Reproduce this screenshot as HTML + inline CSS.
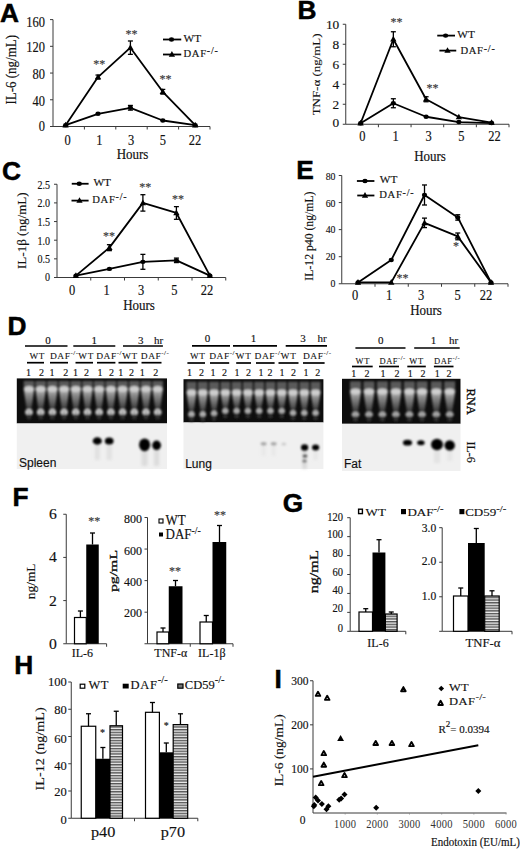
<!DOCTYPE html><html><head><meta charset="utf-8"><style>html,body{margin:0;padding:0;background:#fff;}svg{display:block;}</style></head><body>
<svg width="520" height="849" viewBox="0 0 520 849">
<defs><filter id="bl1" x="-50%" y="-50%" width="200%" height="200%"><feGaussianBlur stdDeviation="1.2"/></filter><filter id="bl2" x="-50%" y="-50%" width="200%" height="200%"><feGaussianBlur stdDeviation="2"/></filter><filter id="bl05" x="-50%" y="-50%" width="200%" height="200%"><feGaussianBlur stdDeviation="0.6"/></filter><filter id="bl07" x="-50%" y="-50%" width="200%" height="200%"><feGaussianBlur stdDeviation="0.8"/></filter><filter id="bl08" x="-5%" y="-5%" width="110%" height="110%"><feGaussianBlur stdDeviation="0.9"/></filter><filter id="bl15" x="-50%" y="-50%" width="200%" height="200%"><feGaussianBlur stdDeviation="1.5"/></filter><pattern id="hs" width="4" height="2.7" patternUnits="userSpaceOnUse"><rect width="4" height="2.7" fill="#eee"/><rect width="4" height="1.4" fill="#555"/></pattern><linearGradient id="smear" x1="0" y1="0" x2="0" y2="1"><stop offset="0" stop-color="#bdbdbd"/><stop offset="0.3" stop-color="#8a8a8a"/><stop offset="1" stop-color="#333"/></linearGradient></defs>
<rect width="520" height="849" fill="#fff"/>
<text transform="translate(0 21.5)" font-size="26.3" text-anchor="start" font-family='"Liberation Sans", sans-serif' font-weight="bold" fill="#000" stroke="#000" stroke-width="0.5">A</text>
<line x1="53" y1="19.6" x2="53" y2="126.5" stroke="#3a3a3a" stroke-width="1"/>
<line x1="50" y1="126.5" x2="53" y2="126.5" stroke="#3a3a3a" stroke-width="1"/>
<text transform="translate(45 131.29) scale(1 1.1)" font-size="12.5" text-anchor="end" font-family='"Liberation Serif", serif' font-weight="normal" fill="#111" stroke="#111" stroke-width="0.15">0</text>
<line x1="50" y1="99.78" x2="53" y2="99.78" stroke="#3a3a3a" stroke-width="1"/>
<text transform="translate(45 105.79) scale(1 1.1)" font-size="12.5" text-anchor="end" font-family='"Liberation Serif", serif' font-weight="normal" fill="#111" stroke="#111" stroke-width="0.15">40</text>
<line x1="50" y1="73.05" x2="53" y2="73.05" stroke="#3a3a3a" stroke-width="1"/>
<text transform="translate(45 78.99) scale(1 1.1)" font-size="12.5" text-anchor="end" font-family='"Liberation Serif", serif' font-weight="normal" fill="#111" stroke="#111" stroke-width="0.15">80</text>
<line x1="50" y1="46.32" x2="53" y2="46.32" stroke="#3a3a3a" stroke-width="1"/>
<text transform="translate(45 52.19) scale(1 1.1)" font-size="12.5" text-anchor="end" font-family='"Liberation Serif", serif' font-weight="normal" fill="#111" stroke="#111" stroke-width="0.15">120</text>
<line x1="50" y1="19.6" x2="53" y2="19.6" stroke="#3a3a3a" stroke-width="1"/>
<text transform="translate(45 26.89) scale(1 1.1)" font-size="12.5" text-anchor="end" font-family='"Liberation Serif", serif' font-weight="normal" fill="#111" stroke="#111" stroke-width="0.15">160</text>
<line x1="53" y1="126.5" x2="210" y2="126.5" stroke="#3a3a3a" stroke-width="1"/>
<line x1="84.4" y1="126.5" x2="84.4" y2="129.5" stroke="#3a3a3a" stroke-width="1"/>
<line x1="115.8" y1="126.5" x2="115.8" y2="129.5" stroke="#3a3a3a" stroke-width="1"/>
<line x1="147.2" y1="126.5" x2="147.2" y2="129.5" stroke="#3a3a3a" stroke-width="1"/>
<line x1="178.6" y1="126.5" x2="178.6" y2="129.5" stroke="#3a3a3a" stroke-width="1"/>
<line x1="210" y1="126.5" x2="210" y2="129.5" stroke="#3a3a3a" stroke-width="1"/>
<text transform="translate(67.5 145) scale(1 1.1)" font-size="12.5" text-anchor="middle" font-family='"Liberation Serif", serif' font-weight="normal" fill="#111" stroke="#111" stroke-width="0.15">0</text>
<text transform="translate(99.25 145) scale(1 1.1)" font-size="12.5" text-anchor="middle" font-family='"Liberation Serif", serif' font-weight="normal" fill="#111" stroke="#111" stroke-width="0.15">1</text>
<text transform="translate(131 145) scale(1 1.1)" font-size="12.5" text-anchor="middle" font-family='"Liberation Serif", serif' font-weight="normal" fill="#111" stroke="#111" stroke-width="0.15">3</text>
<text transform="translate(162.75 145) scale(1 1.1)" font-size="12.5" text-anchor="middle" font-family='"Liberation Serif", serif' font-weight="normal" fill="#111" stroke="#111" stroke-width="0.15">5</text>
<text transform="translate(195 145) scale(1 1.1)" font-size="12.5" text-anchor="middle" font-family='"Liberation Serif", serif' font-weight="normal" fill="#111" stroke="#111" stroke-width="0.15">22</text>
<text transform="translate(132.5 159.3) scale(1 1.1)" font-size="13" text-anchor="middle" font-family='"Liberation Serif", serif' font-weight="normal" fill="#111" stroke="#111" stroke-width="0.15">Hours</text>
<text transform="translate(15.5 69.8) rotate(-90) scale(1 1.12)" font-size="13" text-anchor="middle" font-family='"Liberation Serif", serif' font-weight="normal" fill="#111" stroke="#111" stroke-width="0.15">IL-6 (ng/mL)</text>
<polyline points="65.6,125.16 98,113.81 130.4,107.79 162.8,120.49 195.2,125.16" fill="none" stroke="#000" stroke-width="1.8" stroke-linejoin="round"/>
<polyline points="65.6,125.16 98,77.06 130.4,47.66 162.8,91.76 195.2,125.16" fill="none" stroke="#000" stroke-width="1.8" stroke-linejoin="round"/>
<line x1="130.4" y1="105.45" x2="130.4" y2="110.13" stroke="#000" stroke-width="1.3"/>
<line x1="127.9" y1="105.45" x2="132.9" y2="105.45" stroke="#000" stroke-width="1.3"/>
<line x1="127.9" y1="110.13" x2="132.9" y2="110.13" stroke="#000" stroke-width="1.3"/>
<line x1="130.4" y1="40.98" x2="130.4" y2="54.34" stroke="#000" stroke-width="1.3"/>
<line x1="127.9" y1="40.98" x2="132.9" y2="40.98" stroke="#000" stroke-width="1.3"/>
<line x1="127.9" y1="54.34" x2="132.9" y2="54.34" stroke="#000" stroke-width="1.3"/>
<line x1="98" y1="75.05" x2="98" y2="79.06" stroke="#000" stroke-width="1.3"/>
<line x1="95.5" y1="75.05" x2="100.5" y2="75.05" stroke="#000" stroke-width="1.3"/>
<line x1="95.5" y1="79.06" x2="100.5" y2="79.06" stroke="#000" stroke-width="1.3"/>
<line x1="162.8" y1="89.42" x2="162.8" y2="94.1" stroke="#000" stroke-width="1.3"/>
<line x1="160.3" y1="89.42" x2="165.3" y2="89.42" stroke="#000" stroke-width="1.3"/>
<line x1="160.3" y1="94.1" x2="165.3" y2="94.1" stroke="#000" stroke-width="1.3"/>
<ellipse cx="65.6" cy="125.16" rx="2.64" ry="2.2" fill="#000"/>
<ellipse cx="98" cy="113.81" rx="2.64" ry="2.2" fill="#000"/>
<ellipse cx="130.4" cy="107.79" rx="2.64" ry="2.2" fill="#000"/>
<ellipse cx="162.8" cy="120.49" rx="2.64" ry="2.2" fill="#000"/>
<ellipse cx="195.2" cy="125.16" rx="2.64" ry="2.2" fill="#000"/>
<path d="M65.6 121.76L68.75 127.43L62.45 127.43Z" fill="#000"/>
<path d="M98 73.66L101.15 79.33L94.85 79.33Z" fill="#000"/>
<path d="M130.4 44.26L133.55 49.93L127.25 49.93Z" fill="#000"/>
<path d="M162.8 88.36L165.95 94.03L159.65 94.03Z" fill="#000"/>
<path d="M195.2 121.76L198.35 127.43L192.05 127.43Z" fill="#000"/>
<text transform="translate(99.2 68) scale(1 1.1)" font-size="12" text-anchor="middle" font-family='"Liberation Serif", serif' font-weight="normal" fill="#3a3a3a" stroke="#3a3a3a" stroke-width="0.15">**</text>
<text transform="translate(131.5 38) scale(1 1.1)" font-size="12" text-anchor="middle" font-family='"Liberation Serif", serif' font-weight="normal" fill="#3a3a3a" stroke="#3a3a3a" stroke-width="0.15">**</text>
<text transform="translate(165.4 83) scale(1 1.1)" font-size="12" text-anchor="middle" font-family='"Liberation Serif", serif' font-weight="normal" fill="#3a3a3a" stroke="#3a3a3a" stroke-width="0.15">**</text>
<line x1="163" y1="39.5" x2="181.25" y2="39.5" stroke="#000" stroke-width="1.8"/>
<ellipse cx="171.5" cy="39.5" rx="2.64" ry="2.2" fill="#000"/>
<text transform="translate(183.5 41.5) scale(1 0.85)" font-size="11.3" text-anchor="start" font-family='"Liberation Serif", serif' font-weight="normal" fill="#111" stroke="#111" stroke-width="0.15">WT</text>
<line x1="163" y1="54.5" x2="181.25" y2="54.5" stroke="#000" stroke-width="1.8"/>
<path d="M171.9 51.1L175.05 56.77L168.75 56.77Z" fill="#000"/>
<text transform="translate(183.5 56.5)" font-size="10.6" text-anchor="start" font-family='"Liberation Serif", serif' font-weight="normal" fill="#111" stroke="#111" stroke-width="0.15" letter-spacing="0.7">DAF<tspan font-size="10" dy="-2.6" letter-spacing="0.8">-/-</tspan></text>
<text transform="translate(297.5 18.5)" font-size="26.3" text-anchor="start" font-family='"Liberation Sans", sans-serif' font-weight="bold" fill="#000" stroke="#000" stroke-width="0.5">B</text>
<line x1="345.75" y1="24.25" x2="345.75" y2="124.25" stroke="#3a3a3a" stroke-width="1"/>
<line x1="342.75" y1="124.25" x2="345.75" y2="124.25" stroke="#3a3a3a" stroke-width="1"/>
<text transform="translate(339.25 127.38) scale(1.07 0.94)" font-size="12.5" text-anchor="end" font-family='"Liberation Serif", serif' font-weight="normal" fill="#111" stroke="#111" stroke-width="0.15">0</text>
<line x1="342.75" y1="104.25" x2="345.75" y2="104.25" stroke="#3a3a3a" stroke-width="1"/>
<text transform="translate(339.25 108.58) scale(1.07 0.94)" font-size="12.5" text-anchor="end" font-family='"Liberation Serif", serif' font-weight="normal" fill="#111" stroke="#111" stroke-width="0.15">2</text>
<line x1="342.75" y1="84.25" x2="345.75" y2="84.25" stroke="#3a3a3a" stroke-width="1"/>
<text transform="translate(339.25 89.08) scale(1.07 0.94)" font-size="12.5" text-anchor="end" font-family='"Liberation Serif", serif' font-weight="normal" fill="#111" stroke="#111" stroke-width="0.15">4</text>
<line x1="342.75" y1="64.25" x2="345.75" y2="64.25" stroke="#3a3a3a" stroke-width="1"/>
<text transform="translate(339.25 68.98) scale(1.07 0.94)" font-size="12.5" text-anchor="end" font-family='"Liberation Serif", serif' font-weight="normal" fill="#111" stroke="#111" stroke-width="0.15">6</text>
<line x1="342.75" y1="44.25" x2="345.75" y2="44.25" stroke="#3a3a3a" stroke-width="1"/>
<text transform="translate(339.25 48.88) scale(1.07 0.94)" font-size="12.5" text-anchor="end" font-family='"Liberation Serif", serif' font-weight="normal" fill="#111" stroke="#111" stroke-width="0.15">8</text>
<line x1="342.75" y1="24.25" x2="345.75" y2="24.25" stroke="#3a3a3a" stroke-width="1"/>
<text transform="translate(339.25 28.78) scale(1.07 0.94)" font-size="12.5" text-anchor="end" font-family='"Liberation Serif", serif' font-weight="normal" fill="#111" stroke="#111" stroke-width="0.15">10</text>
<line x1="345.75" y1="124.25" x2="509" y2="124.25" stroke="#3a3a3a" stroke-width="1"/>
<line x1="378.4" y1="124.25" x2="378.4" y2="127.25" stroke="#3a3a3a" stroke-width="1"/>
<line x1="411.05" y1="124.25" x2="411.05" y2="127.25" stroke="#3a3a3a" stroke-width="1"/>
<line x1="443.7" y1="124.25" x2="443.7" y2="127.25" stroke="#3a3a3a" stroke-width="1"/>
<line x1="476.35" y1="124.25" x2="476.35" y2="127.25" stroke="#3a3a3a" stroke-width="1"/>
<line x1="509" y1="124.25" x2="509" y2="127.25" stroke="#3a3a3a" stroke-width="1"/>
<text transform="translate(362.3 141) scale(1 1.1)" font-size="12.5" text-anchor="middle" font-family='"Liberation Serif", serif' font-weight="normal" fill="#111" stroke="#111" stroke-width="0.15">0</text>
<text transform="translate(395.5 141) scale(1 1.1)" font-size="12.5" text-anchor="middle" font-family='"Liberation Serif", serif' font-weight="normal" fill="#111" stroke="#111" stroke-width="0.15">1</text>
<text transform="translate(428.5 141) scale(1 1.1)" font-size="12.5" text-anchor="middle" font-family='"Liberation Serif", serif' font-weight="normal" fill="#111" stroke="#111" stroke-width="0.15">3</text>
<text transform="translate(461.4 141) scale(1 1.1)" font-size="12.5" text-anchor="middle" font-family='"Liberation Serif", serif' font-weight="normal" fill="#111" stroke="#111" stroke-width="0.15">5</text>
<text transform="translate(494.6 141) scale(1 1.1)" font-size="12.5" text-anchor="middle" font-family='"Liberation Serif", serif' font-weight="normal" fill="#111" stroke="#111" stroke-width="0.15">22</text>
<text transform="translate(430 160.5) scale(1 1.1)" font-size="13" text-anchor="middle" font-family='"Liberation Serif", serif' font-weight="normal" fill="#111" stroke="#111" stroke-width="0.15">Hours</text>
<text transform="translate(320 74.45) rotate(-90) scale(1 0.82)" font-size="12.93" text-anchor="middle" font-family='"Liberation Serif", serif' font-weight="normal" fill="#111" stroke="#111" stroke-width="0.15">TNF-&#945; (ng/mL)</text>
<polyline points="360.6,123.25 393.35,103.25 426.1,116.75 458.85,122.05 491.6,123.05" fill="none" stroke="#000" stroke-width="1.8" stroke-linejoin="round"/>
<polyline points="360.6,123.25 393.35,39.25 426.1,99.25 458.85,117.05 491.6,122.55" fill="none" stroke="#000" stroke-width="1.8" stroke-linejoin="round"/>
<line x1="393.35" y1="98.75" x2="393.35" y2="107.75" stroke="#000" stroke-width="1.3"/>
<line x1="390.85" y1="98.75" x2="395.85" y2="98.75" stroke="#000" stroke-width="1.3"/>
<line x1="390.85" y1="107.75" x2="395.85" y2="107.75" stroke="#000" stroke-width="1.3"/>
<line x1="393.35" y1="31.75" x2="393.35" y2="46.75" stroke="#000" stroke-width="1.3"/>
<line x1="390.85" y1="31.75" x2="395.85" y2="31.75" stroke="#000" stroke-width="1.3"/>
<line x1="390.85" y1="46.75" x2="395.85" y2="46.75" stroke="#000" stroke-width="1.3"/>
<line x1="426.1" y1="96.75" x2="426.1" y2="101.75" stroke="#000" stroke-width="1.3"/>
<line x1="423.6" y1="96.75" x2="428.6" y2="96.75" stroke="#000" stroke-width="1.3"/>
<line x1="423.6" y1="101.75" x2="428.6" y2="101.75" stroke="#000" stroke-width="1.3"/>
<ellipse cx="360.6" cy="123.25" rx="2.64" ry="2.2" fill="#000"/>
<ellipse cx="393.35" cy="103.25" rx="2.64" ry="2.2" fill="#000"/>
<ellipse cx="426.1" cy="116.75" rx="2.64" ry="2.2" fill="#000"/>
<ellipse cx="458.85" cy="122.05" rx="2.64" ry="2.2" fill="#000"/>
<ellipse cx="491.6" cy="123.05" rx="2.64" ry="2.2" fill="#000"/>
<path d="M360.6 119.85L363.75 125.52L357.45 125.52Z" fill="#000"/>
<path d="M393.35 35.85L396.5 41.52L390.2 41.52Z" fill="#000"/>
<path d="M426.1 95.85L429.25 101.52L422.95 101.52Z" fill="#000"/>
<path d="M458.85 113.65L462 119.32L455.7 119.32Z" fill="#000"/>
<path d="M491.6 119.15L494.75 124.82L488.45 124.82Z" fill="#000"/>
<text transform="translate(396.5 26) scale(1 1.1)" font-size="12" text-anchor="middle" font-family='"Liberation Serif", serif' font-weight="normal" fill="#3a3a3a" stroke="#3a3a3a" stroke-width="0.15">**</text>
<text transform="translate(432.5 91.5) scale(1 1.1)" font-size="12" text-anchor="middle" font-family='"Liberation Serif", serif' font-weight="normal" fill="#3a3a3a" stroke="#3a3a3a" stroke-width="0.15">**</text>
<line x1="437.25" y1="35.6" x2="455" y2="35.6" stroke="#000" stroke-width="1.8"/>
<ellipse cx="445.6" cy="35.6" rx="2.64" ry="2.2" fill="#000"/>
<text transform="translate(457.3 37.5) scale(1 0.85)" font-size="11.3" text-anchor="start" font-family='"Liberation Serif", serif' font-weight="normal" fill="#111" stroke="#111" stroke-width="0.15">WT</text>
<line x1="439.4" y1="50.6" x2="456.25" y2="50.6" stroke="#000" stroke-width="1.8"/>
<path d="M447.5 47.2L450.65 52.87L444.35 52.87Z" fill="#000"/>
<text transform="translate(460.4 54.4)" font-size="10.6" text-anchor="start" font-family='"Liberation Serif", serif' font-weight="normal" fill="#111" stroke="#111" stroke-width="0.15" letter-spacing="0.7">DAF<tspan font-size="10" dy="-2.6" letter-spacing="0.8">-/-</tspan></text>
<text transform="translate(2 180.2)" font-size="26.3" text-anchor="start" font-family='"Liberation Sans", sans-serif' font-weight="bold" fill="#000" stroke="#000" stroke-width="0.5">C</text>
<line x1="57" y1="184.25" x2="57" y2="277.5" stroke="#3a3a3a" stroke-width="1"/>
<line x1="54" y1="277.5" x2="57" y2="277.5" stroke="#3a3a3a" stroke-width="1"/>
<text transform="translate(50.1 280.92) scale(0.84 0.99)" font-size="12" text-anchor="end" font-family='"Liberation Serif", serif' font-weight="normal" fill="#111" stroke="#111" stroke-width="0.15">0</text>
<line x1="54" y1="258.85" x2="57" y2="258.85" stroke="#3a3a3a" stroke-width="1"/>
<text transform="translate(50.1 263.42) scale(0.84 0.99)" font-size="12" text-anchor="end" font-family='"Liberation Serif", serif' font-weight="normal" fill="#111" stroke="#111" stroke-width="0.15">0.5</text>
<line x1="54" y1="240.2" x2="57" y2="240.2" stroke="#3a3a3a" stroke-width="1"/>
<text transform="translate(50.1 244.62) scale(0.84 0.99)" font-size="12" text-anchor="end" font-family='"Liberation Serif", serif' font-weight="normal" fill="#111" stroke="#111" stroke-width="0.15">1.0</text>
<line x1="54" y1="221.55" x2="57" y2="221.55" stroke="#3a3a3a" stroke-width="1"/>
<text transform="translate(50.1 225.92) scale(0.84 0.99)" font-size="12" text-anchor="end" font-family='"Liberation Serif", serif' font-weight="normal" fill="#111" stroke="#111" stroke-width="0.15">1.5</text>
<line x1="54" y1="202.9" x2="57" y2="202.9" stroke="#3a3a3a" stroke-width="1"/>
<text transform="translate(50.1 206.82) scale(0.84 0.99)" font-size="12" text-anchor="end" font-family='"Liberation Serif", serif' font-weight="normal" fill="#111" stroke="#111" stroke-width="0.15">2.0</text>
<line x1="54" y1="184.25" x2="57" y2="184.25" stroke="#3a3a3a" stroke-width="1"/>
<text transform="translate(50.1 189.02) scale(0.84 0.99)" font-size="12" text-anchor="end" font-family='"Liberation Serif", serif' font-weight="normal" fill="#111" stroke="#111" stroke-width="0.15">2.5</text>
<line x1="57" y1="277.5" x2="225.75" y2="277.5" stroke="#3a3a3a" stroke-width="1"/>
<line x1="90.75" y1="277.5" x2="90.75" y2="280.5" stroke="#3a3a3a" stroke-width="1"/>
<line x1="124.5" y1="277.5" x2="124.5" y2="280.5" stroke="#3a3a3a" stroke-width="1"/>
<line x1="158.25" y1="277.5" x2="158.25" y2="280.5" stroke="#3a3a3a" stroke-width="1"/>
<line x1="192" y1="277.5" x2="192" y2="280.5" stroke="#3a3a3a" stroke-width="1"/>
<line x1="225.75" y1="277.5" x2="225.75" y2="280.5" stroke="#3a3a3a" stroke-width="1"/>
<text transform="translate(72.1 294.5) scale(1 1.1)" font-size="12.5" text-anchor="middle" font-family='"Liberation Serif", serif' font-weight="normal" fill="#111" stroke="#111" stroke-width="0.15">0</text>
<text transform="translate(106.7 294.5) scale(1 1.1)" font-size="12.5" text-anchor="middle" font-family='"Liberation Serif", serif' font-weight="normal" fill="#111" stroke="#111" stroke-width="0.15">1</text>
<text transform="translate(141 294.5) scale(1 1.1)" font-size="12.5" text-anchor="middle" font-family='"Liberation Serif", serif' font-weight="normal" fill="#111" stroke="#111" stroke-width="0.15">3</text>
<text transform="translate(174.4 294.5) scale(1 1.1)" font-size="12.5" text-anchor="middle" font-family='"Liberation Serif", serif' font-weight="normal" fill="#111" stroke="#111" stroke-width="0.15">5</text>
<text transform="translate(207 294.5) scale(1 1.1)" font-size="12.5" text-anchor="middle" font-family='"Liberation Serif", serif' font-weight="normal" fill="#111" stroke="#111" stroke-width="0.15">22</text>
<text transform="translate(139 309.5) scale(1 1.1)" font-size="13" text-anchor="middle" font-family='"Liberation Serif", serif' font-weight="normal" fill="#111" stroke="#111" stroke-width="0.15">Hours</text>
<text transform="translate(25.7 230.7) rotate(-90) scale(1 0.91)" font-size="13.07" text-anchor="middle" font-family='"Liberation Serif", serif' font-weight="normal" fill="#111" stroke="#111" stroke-width="0.15">IL-1&#946; (ng/mL)</text>
<polyline points="75.9,275.63 109.4,268.92 142.9,261.83 176.4,260.34 209.9,275.63" fill="none" stroke="#000" stroke-width="1.8" stroke-linejoin="round"/>
<polyline points="75.9,275.63 109.4,247.66 142.9,202.9 176.4,212.97 209.9,275.63" fill="none" stroke="#000" stroke-width="1.8" stroke-linejoin="round"/>
<line x1="142.9" y1="254.37" x2="142.9" y2="269.29" stroke="#000" stroke-width="1.3"/>
<line x1="140.4" y1="254.37" x2="145.4" y2="254.37" stroke="#000" stroke-width="1.3"/>
<line x1="140.4" y1="269.29" x2="145.4" y2="269.29" stroke="#000" stroke-width="1.3"/>
<line x1="176.4" y1="258.1" x2="176.4" y2="262.58" stroke="#000" stroke-width="1.3"/>
<line x1="173.9" y1="258.1" x2="178.9" y2="258.1" stroke="#000" stroke-width="1.3"/>
<line x1="173.9" y1="262.58" x2="178.9" y2="262.58" stroke="#000" stroke-width="1.3"/>
<line x1="109.4" y1="244.68" x2="109.4" y2="250.64" stroke="#000" stroke-width="1.3"/>
<line x1="106.9" y1="244.68" x2="111.9" y2="244.68" stroke="#000" stroke-width="1.3"/>
<line x1="106.9" y1="250.64" x2="111.9" y2="250.64" stroke="#000" stroke-width="1.3"/>
<line x1="142.9" y1="194.69" x2="142.9" y2="211.11" stroke="#000" stroke-width="1.3"/>
<line x1="140.4" y1="194.69" x2="145.4" y2="194.69" stroke="#000" stroke-width="1.3"/>
<line x1="140.4" y1="211.11" x2="145.4" y2="211.11" stroke="#000" stroke-width="1.3"/>
<line x1="176.4" y1="206.63" x2="176.4" y2="219.31" stroke="#000" stroke-width="1.3"/>
<line x1="173.9" y1="206.63" x2="178.9" y2="206.63" stroke="#000" stroke-width="1.3"/>
<line x1="173.9" y1="219.31" x2="178.9" y2="219.31" stroke="#000" stroke-width="1.3"/>
<ellipse cx="75.9" cy="275.63" rx="2.64" ry="2.2" fill="#000"/>
<ellipse cx="109.4" cy="268.92" rx="2.64" ry="2.2" fill="#000"/>
<ellipse cx="142.9" cy="261.83" rx="2.64" ry="2.2" fill="#000"/>
<ellipse cx="176.4" cy="260.34" rx="2.64" ry="2.2" fill="#000"/>
<ellipse cx="209.9" cy="275.63" rx="2.64" ry="2.2" fill="#000"/>
<path d="M75.9 272.23L79.05 277.9L72.75 277.9Z" fill="#000"/>
<path d="M109.4 244.26L112.55 249.93L106.25 249.93Z" fill="#000"/>
<path d="M142.9 199.5L146.05 205.17L139.75 205.17Z" fill="#000"/>
<path d="M176.4 209.57L179.55 215.24L173.25 215.24Z" fill="#000"/>
<path d="M209.9 272.23L213.05 277.9L206.75 277.9Z" fill="#000"/>
<text transform="translate(108.9 240) scale(1 1.1)" font-size="12" text-anchor="middle" font-family='"Liberation Serif", serif' font-weight="normal" fill="#3a3a3a" stroke="#3a3a3a" stroke-width="0.15">**</text>
<text transform="translate(145.2 190.5) scale(1 1.1)" font-size="12" text-anchor="middle" font-family='"Liberation Serif", serif' font-weight="normal" fill="#3a3a3a" stroke="#3a3a3a" stroke-width="0.15">**</text>
<text transform="translate(177.9 203) scale(1 1.1)" font-size="12" text-anchor="middle" font-family='"Liberation Serif", serif' font-weight="normal" fill="#3a3a3a" stroke="#3a3a3a" stroke-width="0.15">**</text>
<line x1="71.75" y1="183.75" x2="88.6" y2="183.75" stroke="#000" stroke-width="1.8"/>
<ellipse cx="79.25" cy="183.75" rx="2.64" ry="2.2" fill="#000"/>
<text transform="translate(93.4 186) scale(1 0.85)" font-size="11.3" text-anchor="start" font-family='"Liberation Serif", serif' font-weight="normal" fill="#111" stroke="#111" stroke-width="0.15">WT</text>
<line x1="71.5" y1="200.6" x2="88.6" y2="200.6" stroke="#000" stroke-width="1.8"/>
<path d="M79.5 197.2L82.65 202.87L76.35 202.87Z" fill="#000"/>
<text transform="translate(92.2 202.75)" font-size="10.6" text-anchor="start" font-family='"Liberation Serif", serif' font-weight="normal" fill="#111" stroke="#111" stroke-width="0.15" letter-spacing="0.7">DAF<tspan font-size="10" dy="-2.6" letter-spacing="0.8">-/-</tspan></text>
<text transform="translate(296.2 179)" font-size="26.3" text-anchor="start" font-family='"Liberation Sans", sans-serif' font-weight="bold" fill="#000" stroke="#000" stroke-width="0.5">E</text>
<line x1="341.75" y1="175.5" x2="341.75" y2="283.75" stroke="#3a3a3a" stroke-width="1"/>
<line x1="338.75" y1="283.75" x2="341.75" y2="283.75" stroke="#3a3a3a" stroke-width="1"/>
<text transform="translate(335.45 287.23) scale(0.82 0.91)" font-size="12" text-anchor="end" font-family='"Liberation Serif", serif' font-weight="normal" fill="#111" stroke="#111" stroke-width="0.15">0</text>
<line x1="338.75" y1="256.69" x2="341.75" y2="256.69" stroke="#3a3a3a" stroke-width="1"/>
<text transform="translate(335.45 260.33) scale(0.82 0.91)" font-size="12" text-anchor="end" font-family='"Liberation Serif", serif' font-weight="normal" fill="#111" stroke="#111" stroke-width="0.15">20</text>
<line x1="338.75" y1="229.62" x2="341.75" y2="229.62" stroke="#3a3a3a" stroke-width="1"/>
<text transform="translate(335.45 233.43) scale(0.82 0.91)" font-size="12" text-anchor="end" font-family='"Liberation Serif", serif' font-weight="normal" fill="#111" stroke="#111" stroke-width="0.15">40</text>
<line x1="338.75" y1="202.56" x2="341.75" y2="202.56" stroke="#3a3a3a" stroke-width="1"/>
<text transform="translate(335.45 207.33) scale(0.82 0.91)" font-size="12" text-anchor="end" font-family='"Liberation Serif", serif' font-weight="normal" fill="#111" stroke="#111" stroke-width="0.15">60</text>
<line x1="338.75" y1="175.5" x2="341.75" y2="175.5" stroke="#3a3a3a" stroke-width="1"/>
<text transform="translate(335.45 180.33) scale(0.82 0.91)" font-size="12" text-anchor="end" font-family='"Liberation Serif", serif' font-weight="normal" fill="#111" stroke="#111" stroke-width="0.15">80</text>
<line x1="341.75" y1="283.75" x2="508" y2="283.75" stroke="#3a3a3a" stroke-width="1"/>
<line x1="375" y1="283.75" x2="375" y2="286.75" stroke="#3a3a3a" stroke-width="1"/>
<line x1="408.25" y1="283.75" x2="408.25" y2="286.75" stroke="#3a3a3a" stroke-width="1"/>
<line x1="441.5" y1="283.75" x2="441.5" y2="286.75" stroke="#3a3a3a" stroke-width="1"/>
<line x1="474.75" y1="283.75" x2="474.75" y2="286.75" stroke="#3a3a3a" stroke-width="1"/>
<line x1="508" y1="283.75" x2="508" y2="286.75" stroke="#3a3a3a" stroke-width="1"/>
<text transform="translate(355 299.5) scale(1 1.1)" font-size="12.5" text-anchor="middle" font-family='"Liberation Serif", serif' font-weight="normal" fill="#111" stroke="#111" stroke-width="0.15">0</text>
<text transform="translate(389 299.5) scale(1 1.1)" font-size="12.5" text-anchor="middle" font-family='"Liberation Serif", serif' font-weight="normal" fill="#111" stroke="#111" stroke-width="0.15">1</text>
<text transform="translate(421 299.5) scale(1 1.1)" font-size="12.5" text-anchor="middle" font-family='"Liberation Serif", serif' font-weight="normal" fill="#111" stroke="#111" stroke-width="0.15">3</text>
<text transform="translate(457.5 299.5) scale(1 1.1)" font-size="12.5" text-anchor="middle" font-family='"Liberation Serif", serif' font-weight="normal" fill="#111" stroke="#111" stroke-width="0.15">5</text>
<text transform="translate(486 299.5) scale(1 1.1)" font-size="12.5" text-anchor="middle" font-family='"Liberation Serif", serif' font-weight="normal" fill="#111" stroke="#111" stroke-width="0.15">22</text>
<text transform="translate(426 314.5) scale(1 1.1)" font-size="13" text-anchor="middle" font-family='"Liberation Serif", serif' font-weight="normal" fill="#111" stroke="#111" stroke-width="0.15">Hours</text>
<text transform="translate(313.3 236.1) rotate(-90) scale(1 1.05)" font-size="11.72" text-anchor="middle" font-family='"Liberation Serif", serif' font-weight="normal" fill="#111" stroke="#111" stroke-width="0.15">IL-12 p40 (ng/mL)</text>
<polyline points="358,282.4 391.25,260.07 424.5,194.99 457.75,217.45 491,282.4" fill="none" stroke="#000" stroke-width="1.8" stroke-linejoin="round"/>
<polyline points="358,282.4 391.25,282.4 424.5,222.86 457.75,236.39 491,282.4" fill="none" stroke="#000" stroke-width="1.8" stroke-linejoin="round"/>
<line x1="424.5" y1="184.97" x2="424.5" y2="205" stroke="#000" stroke-width="1.3"/>
<line x1="422" y1="184.97" x2="427" y2="184.97" stroke="#000" stroke-width="1.3"/>
<line x1="422" y1="205" x2="427" y2="205" stroke="#000" stroke-width="1.3"/>
<line x1="457.75" y1="214.74" x2="457.75" y2="220.15" stroke="#000" stroke-width="1.3"/>
<line x1="455.25" y1="214.74" x2="460.25" y2="214.74" stroke="#000" stroke-width="1.3"/>
<line x1="455.25" y1="220.15" x2="460.25" y2="220.15" stroke="#000" stroke-width="1.3"/>
<line x1="424.5" y1="218.12" x2="424.5" y2="227.6" stroke="#000" stroke-width="1.3"/>
<line x1="422" y1="218.12" x2="427" y2="218.12" stroke="#000" stroke-width="1.3"/>
<line x1="422" y1="227.6" x2="427" y2="227.6" stroke="#000" stroke-width="1.3"/>
<line x1="457.75" y1="233.01" x2="457.75" y2="239.77" stroke="#000" stroke-width="1.3"/>
<line x1="455.25" y1="233.01" x2="460.25" y2="233.01" stroke="#000" stroke-width="1.3"/>
<line x1="455.25" y1="239.77" x2="460.25" y2="239.77" stroke="#000" stroke-width="1.3"/>
<ellipse cx="358" cy="282.4" rx="2.64" ry="2.2" fill="#000"/>
<ellipse cx="391.25" cy="260.07" rx="2.64" ry="2.2" fill="#000"/>
<ellipse cx="424.5" cy="194.99" rx="2.64" ry="2.2" fill="#000"/>
<ellipse cx="457.75" cy="217.45" rx="2.64" ry="2.2" fill="#000"/>
<ellipse cx="491" cy="282.4" rx="2.64" ry="2.2" fill="#000"/>
<path d="M358 278.99L361.15 284.66L354.85 284.66Z" fill="#000"/>
<path d="M391.25 278.99L394.4 284.66L388.1 284.66Z" fill="#000"/>
<path d="M424.5 219.46L427.65 225.13L421.35 225.13Z" fill="#000"/>
<path d="M457.75 232.99L460.9 238.66L454.6 238.66Z" fill="#000"/>
<path d="M491 278.99L494.15 284.66L487.85 284.66Z" fill="#000"/>
<text transform="translate(402.5 282) scale(1 1.1)" font-size="12" text-anchor="middle" font-family='"Liberation Serif", serif' font-weight="normal" fill="#3a3a3a" stroke="#3a3a3a" stroke-width="0.15">**</text>
<text transform="translate(456 250) scale(1 1.1)" font-size="12" text-anchor="middle" font-family='"Liberation Serif", serif' font-weight="normal" fill="#3a3a3a" stroke="#3a3a3a" stroke-width="0.15">*</text>
<line x1="356.9" y1="181" x2="374.4" y2="181" stroke="#000" stroke-width="1.8"/>
<ellipse cx="365" cy="181" rx="2.64" ry="2.2" fill="#000"/>
<text transform="translate(379.8 183.25) scale(1 0.85)" font-size="11.3" text-anchor="start" font-family='"Liberation Serif", serif' font-weight="normal" fill="#111" stroke="#111" stroke-width="0.15">WT</text>
<line x1="357.25" y1="195.5" x2="374.4" y2="195.5" stroke="#000" stroke-width="1.8"/>
<path d="M365 192.1L368.15 197.77L361.85 197.77Z" fill="#000"/>
<text transform="translate(379.2 198.25)" font-size="10.6" text-anchor="start" font-family='"Liberation Serif", serif' font-weight="normal" fill="#111" stroke="#111" stroke-width="0.15" letter-spacing="0.7">DAF<tspan font-size="10" dy="-2.6" letter-spacing="0.8">-/-</tspan></text>
<text transform="translate(7.6 335.4)" font-size="26.3" text-anchor="start" font-family='"Liberation Sans", sans-serif' font-weight="bold" fill="#000" stroke="#000" stroke-width="0.5">D</text>
<rect x="16.8" y="378.4" width="150.2" height="45.1" fill="#0d0d0d"/>
<rect x="16.8" y="423.5" width="150.2" height="45.5" fill="#f0f0f0"/>
<g filter="url(#bl08)">
<rect x="23.75" y="380.9" width="10.5" height="8.1" fill="#5a5a5a"/>
<path d="M23.75 389L34.25 389L31.31 410.3L26.69 410.3Z" fill="url(#smear)"/>
<ellipse cx="29" cy="389" rx="5.25" ry="3" fill="#cdcdcd"/>
<ellipse cx="29" cy="412.3" rx="3.88" ry="3.3" fill="#cacaca"/>
<ellipse cx="29" cy="412" rx="1.57" ry="1.2" fill="#a0a0a0"/>
<rect x="26.9" y="414.3" width="4.2" height="5" fill="#333"/>
<rect x="35.45" y="380.9" width="10.5" height="8.1" fill="#5a5a5a"/>
<path d="M35.45 389L45.95 389L43.01 410.3L38.39 410.3Z" fill="url(#smear)"/>
<ellipse cx="40.7" cy="389" rx="5.25" ry="3" fill="#cdcdcd"/>
<ellipse cx="40.7" cy="412.3" rx="3.88" ry="3.3" fill="#cacaca"/>
<ellipse cx="40.7" cy="412" rx="1.57" ry="1.2" fill="#a0a0a0"/>
<rect x="38.6" y="414.3" width="4.2" height="5" fill="#333"/>
<rect x="47.15" y="380.9" width="10.5" height="8.1" fill="#5a5a5a"/>
<path d="M47.15 389L57.65 389L54.71 410.3L50.09 410.3Z" fill="url(#smear)"/>
<ellipse cx="52.4" cy="389" rx="5.25" ry="3" fill="#cdcdcd"/>
<ellipse cx="52.4" cy="412.3" rx="3.88" ry="3.3" fill="#cacaca"/>
<ellipse cx="52.4" cy="412" rx="1.57" ry="1.2" fill="#a0a0a0"/>
<rect x="50.3" y="414.3" width="4.2" height="5" fill="#333"/>
<rect x="58.85" y="380.9" width="10.5" height="8.1" fill="#5a5a5a"/>
<path d="M58.85 389L69.35 389L66.41 410.3L61.79 410.3Z" fill="url(#smear)"/>
<ellipse cx="64.1" cy="389" rx="5.25" ry="3" fill="#cdcdcd"/>
<ellipse cx="64.1" cy="412.3" rx="3.88" ry="3.3" fill="#cacaca"/>
<ellipse cx="64.1" cy="412" rx="1.57" ry="1.2" fill="#a0a0a0"/>
<rect x="62" y="414.3" width="4.2" height="5" fill="#333"/>
<rect x="70.55" y="380.9" width="10.5" height="8.1" fill="#5a5a5a"/>
<path d="M70.55 389L81.05 389L78.11 410.3L73.49 410.3Z" fill="url(#smear)"/>
<ellipse cx="75.8" cy="389" rx="5.25" ry="3" fill="#cdcdcd"/>
<ellipse cx="75.8" cy="412.3" rx="3.88" ry="3.3" fill="#cacaca"/>
<ellipse cx="75.8" cy="412" rx="1.57" ry="1.2" fill="#a0a0a0"/>
<rect x="73.7" y="414.3" width="4.2" height="5" fill="#333"/>
<rect x="82.25" y="380.9" width="10.5" height="8.1" fill="#5a5a5a"/>
<path d="M82.25 389L92.75 389L89.81 410.3L85.19 410.3Z" fill="url(#smear)"/>
<ellipse cx="87.5" cy="389" rx="5.25" ry="3" fill="#cdcdcd"/>
<ellipse cx="87.5" cy="412.3" rx="3.88" ry="3.3" fill="#cacaca"/>
<ellipse cx="87.5" cy="412" rx="1.57" ry="1.2" fill="#a0a0a0"/>
<rect x="85.4" y="414.3" width="4.2" height="5" fill="#333"/>
<rect x="93.95" y="380.9" width="10.5" height="8.1" fill="#5a5a5a"/>
<path d="M93.95 389L104.45 389L101.51 410.3L96.89 410.3Z" fill="url(#smear)"/>
<ellipse cx="99.2" cy="389" rx="5.25" ry="3" fill="#cdcdcd"/>
<ellipse cx="99.2" cy="412.3" rx="3.88" ry="3.3" fill="#cacaca"/>
<ellipse cx="99.2" cy="412" rx="1.57" ry="1.2" fill="#a0a0a0"/>
<rect x="97.1" y="414.3" width="4.2" height="5" fill="#333"/>
<rect x="105.65" y="380.9" width="10.5" height="8.1" fill="#5a5a5a"/>
<path d="M105.65 389L116.15 389L113.21 410.3L108.59 410.3Z" fill="url(#smear)"/>
<ellipse cx="110.9" cy="389" rx="5.25" ry="3" fill="#cdcdcd"/>
<ellipse cx="110.9" cy="412.3" rx="3.88" ry="3.3" fill="#cacaca"/>
<ellipse cx="110.9" cy="412" rx="1.57" ry="1.2" fill="#a0a0a0"/>
<rect x="108.8" y="414.3" width="4.2" height="5" fill="#333"/>
<rect x="117.35" y="380.9" width="10.5" height="8.1" fill="#5a5a5a"/>
<path d="M117.35 389L127.85 389L124.91 410.3L120.29 410.3Z" fill="url(#smear)"/>
<ellipse cx="122.6" cy="389" rx="5.25" ry="3" fill="#cdcdcd"/>
<ellipse cx="122.6" cy="412.3" rx="3.88" ry="3.3" fill="#cacaca"/>
<ellipse cx="122.6" cy="412" rx="1.57" ry="1.2" fill="#a0a0a0"/>
<rect x="120.5" y="414.3" width="4.2" height="5" fill="#333"/>
<rect x="129.05" y="380.9" width="10.5" height="8.1" fill="#5a5a5a"/>
<path d="M129.05 389L139.55 389L136.61 410.3L131.99 410.3Z" fill="url(#smear)"/>
<ellipse cx="134.3" cy="389" rx="5.25" ry="3" fill="#cdcdcd"/>
<ellipse cx="134.3" cy="412.3" rx="3.88" ry="3.3" fill="#cacaca"/>
<ellipse cx="134.3" cy="412" rx="1.57" ry="1.2" fill="#a0a0a0"/>
<rect x="132.2" y="414.3" width="4.2" height="5" fill="#333"/>
<rect x="140.75" y="380.9" width="10.5" height="8.1" fill="#5a5a5a"/>
<path d="M140.75 389L151.25 389L148.31 410.3L143.69 410.3Z" fill="url(#smear)"/>
<ellipse cx="146" cy="389" rx="5.25" ry="3" fill="#cdcdcd"/>
<ellipse cx="146" cy="412.3" rx="3.88" ry="3.3" fill="#cacaca"/>
<ellipse cx="146" cy="412" rx="1.57" ry="1.2" fill="#a0a0a0"/>
<rect x="143.9" y="414.3" width="4.2" height="5" fill="#333"/>
<rect x="152.45" y="380.9" width="10.5" height="8.1" fill="#5a5a5a"/>
<path d="M152.45 389L162.95 389L160.01 410.3L155.39 410.3Z" fill="url(#smear)"/>
<ellipse cx="157.7" cy="389" rx="5.25" ry="3" fill="#cdcdcd"/>
<ellipse cx="157.7" cy="412.3" rx="3.88" ry="3.3" fill="#cacaca"/>
<ellipse cx="157.7" cy="412" rx="1.57" ry="1.2" fill="#a0a0a0"/>
<rect x="155.6" y="414.3" width="4.2" height="5" fill="#333"/>
</g>
<g filter="url(#bl15)">
<rect x="94.8" y="444" width="5" height="16" fill="#c4c4c4" opacity="0.36"/>
<rect x="106.7" y="444" width="5" height="16" fill="#c4c4c4" opacity="0.36"/>
<rect x="141.6" y="449" width="6" height="17" fill="#c4c4c4" opacity="0.48"/>
<rect x="154.1" y="449" width="5" height="17" fill="#c4c4c4" opacity="0.48"/>
</g>
<g filter="url(#bl07)">
<ellipse cx="97.3" cy="441" rx="4.6" ry="3.7" fill="#000" opacity="1"/>
<ellipse cx="109.2" cy="441" rx="4.4" ry="3.5" fill="#000" opacity="1"/>
<ellipse cx="144.6" cy="444.8" rx="5.6" ry="6.4" fill="#000" opacity="1"/>
<ellipse cx="156.6" cy="445.3" rx="4.4" ry="4.8" fill="#000" opacity="1"/>
</g>
<text transform="translate(19 466.5)" font-size="12" text-anchor="start" font-family='"Liberation Sans", sans-serif' font-weight="normal" fill="#111" stroke="#111" stroke-width="0.15">Spleen</text>
<line x1="25" y1="346" x2="67.5" y2="346" stroke="#000" stroke-width="1.7"/>
<text transform="translate(48 343.7)" font-size="11" text-anchor="middle" font-family='"Liberation Serif", serif' font-weight="normal" fill="#111" stroke="#111" stroke-width="0.15">0</text>
<line x1="73.3" y1="346" x2="115.3" y2="346" stroke="#000" stroke-width="1.7"/>
<text transform="translate(94.3 343.7)" font-size="11" text-anchor="middle" font-family='"Liberation Serif", serif' font-weight="normal" fill="#111" stroke="#111" stroke-width="0.15">1</text>
<line x1="123" y1="346" x2="162.9" y2="346" stroke="#000" stroke-width="1.7"/>
<text transform="translate(140.8 343.7)" font-size="11" text-anchor="middle" font-family='"Liberation Serif", serif' font-weight="normal" fill="#111" stroke="#111" stroke-width="0.15">3</text>
<text transform="translate(158.5 343.7)" font-size="11" text-anchor="middle" font-family='"Liberation Serif", serif' font-weight="normal" fill="#111" stroke="#111" stroke-width="0.15">hr</text>
<line x1="27" y1="362.7" x2="44" y2="362.7" stroke="#000" stroke-width="1.7"/>
<line x1="50" y1="362.7" x2="68" y2="362.7" stroke="#000" stroke-width="1.7"/>
<line x1="75.5" y1="362.7" x2="93" y2="362.7" stroke="#000" stroke-width="1.7"/>
<line x1="97" y1="362.7" x2="115.4" y2="362.7" stroke="#000" stroke-width="1.7"/>
<line x1="118.5" y1="362.7" x2="137.7" y2="362.7" stroke="#000" stroke-width="1.7"/>
<line x1="141.5" y1="362.7" x2="161.5" y2="362.7" stroke="#000" stroke-width="1.7"/>
<text transform="translate(37.3 358.5) scale(1 0.95)" font-size="9.2" text-anchor="middle" font-family='"Liberation Serif", serif' font-weight="normal" fill="#111" stroke="#111" stroke-width="0.1" letter-spacing="0.7">WT</text>
<text transform="translate(50 358.5) scale(1 0.85)" font-size="9.5" text-anchor="start" font-family='"Liberation Serif", serif' font-weight="normal" fill="#111" stroke="#111" stroke-width="0.1" letter-spacing="0.5">DAF<tspan font-size="7" dy="-4.5">-/-</tspan></text>
<text transform="translate(86.2 358.5) scale(1 0.95)" font-size="9.2" text-anchor="middle" font-family='"Liberation Serif", serif' font-weight="normal" fill="#111" stroke="#111" stroke-width="0.1" letter-spacing="0.7">WT</text>
<text transform="translate(96.2 358.5) scale(1 0.85)" font-size="9.5" text-anchor="start" font-family='"Liberation Serif", serif' font-weight="normal" fill="#111" stroke="#111" stroke-width="0.1" letter-spacing="0.5">DAF<tspan font-size="7" dy="-4.5">-/-</tspan></text>
<text transform="translate(130 358.5) scale(1 0.95)" font-size="9.2" text-anchor="middle" font-family='"Liberation Serif", serif' font-weight="normal" fill="#111" stroke="#111" stroke-width="0.1" letter-spacing="0.7">WT</text>
<text transform="translate(140.8 358.5) scale(1 0.85)" font-size="9.5" text-anchor="start" font-family='"Liberation Serif", serif' font-weight="normal" fill="#111" stroke="#111" stroke-width="0.1" letter-spacing="0.5">DAF<tspan font-size="7" dy="-4.5">-/-</tspan></text>
<text transform="translate(28.5 376)" font-size="10" text-anchor="middle" font-family='"Liberation Serif", serif' font-weight="normal" fill="#111" stroke="#111" stroke-width="0.15">1</text>
<text transform="translate(41.5 376)" font-size="10" text-anchor="middle" font-family='"Liberation Serif", serif' font-weight="normal" fill="#111" stroke="#111" stroke-width="0.15">2</text>
<text transform="translate(52 376)" font-size="10" text-anchor="middle" font-family='"Liberation Serif", serif' font-weight="normal" fill="#111" stroke="#111" stroke-width="0.15">1</text>
<text transform="translate(65.7 376)" font-size="10" text-anchor="middle" font-family='"Liberation Serif", serif' font-weight="normal" fill="#111" stroke="#111" stroke-width="0.15">2</text>
<text transform="translate(75.6 376)" font-size="10" text-anchor="middle" font-family='"Liberation Serif", serif' font-weight="normal" fill="#111" stroke="#111" stroke-width="0.15">1</text>
<text transform="translate(86.5 376)" font-size="10" text-anchor="middle" font-family='"Liberation Serif", serif' font-weight="normal" fill="#111" stroke="#111" stroke-width="0.15">2</text>
<text transform="translate(100 376)" font-size="10" text-anchor="middle" font-family='"Liberation Serif", serif' font-weight="normal" fill="#111" stroke="#111" stroke-width="0.15">1</text>
<text transform="translate(111.5 376)" font-size="10" text-anchor="middle" font-family='"Liberation Serif", serif' font-weight="normal" fill="#111" stroke="#111" stroke-width="0.15">2</text>
<text transform="translate(120.8 376)" font-size="10" text-anchor="middle" font-family='"Liberation Serif", serif' font-weight="normal" fill="#111" stroke="#111" stroke-width="0.15">1</text>
<text transform="translate(131.5 376)" font-size="10" text-anchor="middle" font-family='"Liberation Serif", serif' font-weight="normal" fill="#111" stroke="#111" stroke-width="0.15">2</text>
<text transform="translate(142.3 376)" font-size="10" text-anchor="middle" font-family='"Liberation Serif", serif' font-weight="normal" fill="#111" stroke="#111" stroke-width="0.15">1</text>
<text transform="translate(155.8 376)" font-size="10" text-anchor="middle" font-family='"Liberation Serif", serif' font-weight="normal" fill="#111" stroke="#111" stroke-width="0.15">2</text>
<rect x="183.5" y="379.2" width="139.9" height="43.3" fill="#0d0d0d"/>
<rect x="183.5" y="422.5" width="139.9" height="46.5" fill="#f0f0f0"/>
<g filter="url(#bl08)">
<rect x="186.6" y="381.7" width="9.8" height="10.8" fill="#5a5a5a"/>
<path d="M186.6 392.5L196.4 392.5L193.66 412.4L189.34 412.4Z" fill="url(#smear)"/>
<ellipse cx="191.5" cy="392.5" rx="4.9" ry="3" fill="#cdcdcd"/>
<ellipse cx="191.5" cy="414.4" rx="3.33" ry="2.8" fill="#b8b8b8"/>
<ellipse cx="191.5" cy="414.1" rx="1.47" ry="1.2" fill="#a0a0a0"/>
<rect x="189.54" y="416.4" width="3.92" height="5" fill="#333"/>
<rect x="197.88" y="381.7" width="9.8" height="10.8" fill="#5a5a5a"/>
<path d="M197.88 392.5L207.68 392.5L204.94 412.4L200.62 412.4Z" fill="url(#smear)"/>
<ellipse cx="202.78" cy="392.5" rx="4.9" ry="3" fill="#cdcdcd"/>
<ellipse cx="202.78" cy="414.4" rx="3.33" ry="2.8" fill="#b8b8b8"/>
<ellipse cx="202.78" cy="414.1" rx="1.47" ry="1.2" fill="#a0a0a0"/>
<rect x="200.82" y="416.4" width="3.92" height="5" fill="#333"/>
<rect x="209.16" y="381.7" width="9.8" height="10.8" fill="#5a5a5a"/>
<path d="M209.16 392.5L218.96 392.5L216.22 411.5L211.9 411.5Z" fill="url(#smear)"/>
<ellipse cx="214.06" cy="392.5" rx="4.9" ry="3" fill="#cdcdcd"/>
<ellipse cx="214.06" cy="413.5" rx="3.33" ry="2.8" fill="#b8b8b8"/>
<ellipse cx="214.06" cy="413.2" rx="1.47" ry="1.2" fill="#a0a0a0"/>
<rect x="212.1" y="415.5" width="3.92" height="5" fill="#333"/>
<rect x="220.44" y="381.7" width="9.8" height="10.8" fill="#5a5a5a"/>
<path d="M220.44 392.5L230.24 392.5L227.5 409L223.18 409Z" fill="url(#smear)"/>
<ellipse cx="225.34" cy="392.5" rx="4.9" ry="3" fill="#cdcdcd"/>
<ellipse cx="225.34" cy="411" rx="3.33" ry="2.8" fill="#b8b8b8"/>
<ellipse cx="225.34" cy="410.7" rx="1.47" ry="1.2" fill="#a0a0a0"/>
<rect x="223.38" y="413" width="3.92" height="5" fill="#333"/>
<rect x="231.72" y="381.7" width="9.8" height="10.8" fill="#5a5a5a"/>
<path d="M231.72 392.5L241.52 392.5L238.78 409L234.46 409Z" fill="url(#smear)"/>
<ellipse cx="236.62" cy="392.5" rx="4.9" ry="3" fill="#cdcdcd"/>
<ellipse cx="236.62" cy="411" rx="3.33" ry="2.8" fill="#b8b8b8"/>
<ellipse cx="236.62" cy="410.7" rx="1.47" ry="1.2" fill="#a0a0a0"/>
<rect x="234.66" y="413" width="3.92" height="5" fill="#333"/>
<rect x="243" y="381.7" width="9.8" height="10.8" fill="#5a5a5a"/>
<path d="M243 392.5L252.8 392.5L250.06 409L245.74 409Z" fill="url(#smear)"/>
<ellipse cx="247.9" cy="392.5" rx="4.9" ry="3" fill="#cdcdcd"/>
<ellipse cx="247.9" cy="411" rx="3.33" ry="2.8" fill="#b8b8b8"/>
<ellipse cx="247.9" cy="410.7" rx="1.47" ry="1.2" fill="#a0a0a0"/>
<rect x="245.94" y="413" width="3.92" height="5" fill="#333"/>
<rect x="254.28" y="381.7" width="9.8" height="10.8" fill="#5a5a5a"/>
<path d="M254.28 392.5L264.08 392.5L261.34 409L257.02 409Z" fill="url(#smear)"/>
<ellipse cx="259.18" cy="392.5" rx="4.9" ry="3" fill="#cdcdcd"/>
<ellipse cx="259.18" cy="411" rx="3.33" ry="2.8" fill="#b8b8b8"/>
<ellipse cx="259.18" cy="410.7" rx="1.47" ry="1.2" fill="#a0a0a0"/>
<rect x="257.22" y="413" width="3.92" height="5" fill="#333"/>
<rect x="265.56" y="381.7" width="9.8" height="10.8" fill="#5a5a5a"/>
<path d="M265.56 392.5L275.36 392.5L272.62 409L268.3 409Z" fill="url(#smear)"/>
<ellipse cx="270.46" cy="392.5" rx="4.9" ry="3" fill="#cdcdcd"/>
<ellipse cx="270.46" cy="411" rx="3.33" ry="2.8" fill="#b8b8b8"/>
<ellipse cx="270.46" cy="410.7" rx="1.47" ry="1.2" fill="#a0a0a0"/>
<rect x="268.5" y="413" width="3.92" height="5" fill="#333"/>
<rect x="276.84" y="381.7" width="9.8" height="10.8" fill="#5a5a5a"/>
<path d="M276.84 392.5L286.64 392.5L283.9 409L279.58 409Z" fill="url(#smear)"/>
<ellipse cx="281.74" cy="392.5" rx="4.9" ry="3" fill="#cdcdcd"/>
<ellipse cx="281.74" cy="411" rx="3.33" ry="2.8" fill="#b8b8b8"/>
<ellipse cx="281.74" cy="410.7" rx="1.47" ry="1.2" fill="#a0a0a0"/>
<rect x="279.78" y="413" width="3.92" height="5" fill="#333"/>
<rect x="288.12" y="381.7" width="9.8" height="10.8" fill="#5a5a5a"/>
<path d="M288.12 392.5L297.92 392.5L295.18 411L290.86 411Z" fill="url(#smear)"/>
<ellipse cx="293.02" cy="392.5" rx="4.9" ry="3" fill="#cdcdcd"/>
<ellipse cx="293.02" cy="413" rx="3.33" ry="2.8" fill="#b8b8b8"/>
<ellipse cx="293.02" cy="412.7" rx="1.47" ry="1.2" fill="#a0a0a0"/>
<rect x="291.06" y="415" width="3.92" height="5" fill="#333"/>
<rect x="299.4" y="381.7" width="9.8" height="10.8" fill="#5a5a5a"/>
<path d="M299.4 392.5L309.2 392.5L306.46 411L302.14 411Z" fill="url(#smear)"/>
<ellipse cx="304.3" cy="392.5" rx="4.9" ry="3" fill="#cdcdcd"/>
<ellipse cx="304.3" cy="413" rx="3.33" ry="2.8" fill="#b8b8b8"/>
<ellipse cx="304.3" cy="412.7" rx="1.47" ry="1.2" fill="#a0a0a0"/>
<rect x="302.34" y="415" width="3.92" height="5" fill="#333"/>
<rect x="310.68" y="381.7" width="9.8" height="10.8" fill="#5a5a5a"/>
<path d="M310.68 392.5L320.48 392.5L317.74 411L313.42 411Z" fill="url(#smear)"/>
<ellipse cx="315.58" cy="392.5" rx="4.9" ry="3" fill="#cdcdcd"/>
<ellipse cx="315.58" cy="413" rx="3.33" ry="2.8" fill="#b8b8b8"/>
<ellipse cx="315.58" cy="412.7" rx="1.47" ry="1.2" fill="#a0a0a0"/>
<rect x="313.62" y="415" width="3.92" height="5" fill="#333"/>
</g>
<g filter="url(#bl15)">
<rect x="302.35" y="450" width="4.5" height="19" fill="#c4c4c4" opacity="0.54"/>
<rect x="313.6" y="450" width="4" height="10" fill="#c4c4c4" opacity="0.24"/>
<rect x="261.6" y="446" width="4" height="10" fill="#c4c4c4" opacity="0.18"/>
<rect x="271.7" y="446" width="4" height="10" fill="#c4c4c4" opacity="0.18"/>
</g>
<g filter="url(#bl07)">
<ellipse cx="263.6" cy="443.8" rx="3" ry="1.8" fill="#000" opacity="0.3"/>
<ellipse cx="273.7" cy="443.8" rx="3" ry="1.8" fill="#000" opacity="0.3"/>
<ellipse cx="283.8" cy="444" rx="2.5" ry="1.5" fill="#000" opacity="0.15"/>
<ellipse cx="304.6" cy="447.5" rx="3.6" ry="3.2" fill="#000" opacity="1"/>
<ellipse cx="315.6" cy="447.5" rx="3.6" ry="3" fill="#000" opacity="1"/>
</g>
<text transform="translate(185.2 467.5)" font-size="12" text-anchor="start" font-family='"Liberation Sans", sans-serif' font-weight="normal" fill="#111" stroke="#111" stroke-width="0.15">Lung</text>
<g filter="url(#bl07)"><ellipse cx="305" cy="456" rx="2.4" ry="1.6" fill="#555"/><ellipse cx="304.5" cy="461" rx="2.2" ry="1.5" fill="#777"/></g>
<line x1="192" y1="345.8" x2="230" y2="345.8" stroke="#000" stroke-width="1.7"/>
<text transform="translate(207.4 342.3)" font-size="11" text-anchor="middle" font-family='"Liberation Serif", serif' font-weight="normal" fill="#111" stroke="#111" stroke-width="0.15">0</text>
<line x1="233" y1="345.8" x2="277" y2="345.8" stroke="#000" stroke-width="1.7"/>
<text transform="translate(253.6 342.3)" font-size="11" text-anchor="middle" font-family='"Liberation Serif", serif' font-weight="normal" fill="#111" stroke="#111" stroke-width="0.15">1</text>
<line x1="285.7" y1="345.8" x2="327" y2="345.8" stroke="#000" stroke-width="1.7"/>
<text transform="translate(303 342.3)" font-size="11" text-anchor="middle" font-family='"Liberation Serif", serif' font-weight="normal" fill="#111" stroke="#111" stroke-width="0.15">3</text>
<text transform="translate(322 342.3)" font-size="11" text-anchor="middle" font-family='"Liberation Serif", serif' font-weight="normal" fill="#111" stroke="#111" stroke-width="0.15">hr</text>
<line x1="187.4" y1="363" x2="205" y2="363" stroke="#000" stroke-width="1.7"/>
<line x1="210" y1="363" x2="229.2" y2="363" stroke="#000" stroke-width="1.7"/>
<line x1="236.2" y1="363" x2="251" y2="363" stroke="#000" stroke-width="1.7"/>
<line x1="256" y1="363" x2="274.6" y2="363" stroke="#000" stroke-width="1.7"/>
<line x1="278.5" y1="363" x2="298.5" y2="363" stroke="#000" stroke-width="1.7"/>
<line x1="303" y1="363" x2="324.6" y2="363" stroke="#000" stroke-width="1.7"/>
<text transform="translate(197.8 359.2) scale(1 0.95)" font-size="9.2" text-anchor="middle" font-family='"Liberation Serif", serif' font-weight="normal" fill="#111" stroke="#111" stroke-width="0.1" letter-spacing="0.7">WT</text>
<text transform="translate(209.2 359.2) scale(1 0.85)" font-size="9.5" text-anchor="start" font-family='"Liberation Serif", serif' font-weight="normal" fill="#111" stroke="#111" stroke-width="0.1" letter-spacing="0.5">DAF<tspan font-size="7" dy="-4.5">-/-</tspan></text>
<text transform="translate(243.7 359.2) scale(1 0.95)" font-size="9.2" text-anchor="middle" font-family='"Liberation Serif", serif' font-weight="normal" fill="#111" stroke="#111" stroke-width="0.1" letter-spacing="0.7">WT</text>
<text transform="translate(254.6 359.2) scale(1 0.85)" font-size="9.5" text-anchor="start" font-family='"Liberation Serif", serif' font-weight="normal" fill="#111" stroke="#111" stroke-width="0.1" letter-spacing="0.5">DAF<tspan font-size="7" dy="-4.5">-/-</tspan></text>
<text transform="translate(288.7 359.2) scale(1 0.95)" font-size="9.2" text-anchor="middle" font-family='"Liberation Serif", serif' font-weight="normal" fill="#111" stroke="#111" stroke-width="0.1" letter-spacing="0.7">WT</text>
<text transform="translate(303 359.2) scale(1 0.85)" font-size="9.5" text-anchor="start" font-family='"Liberation Serif", serif' font-weight="normal" fill="#111" stroke="#111" stroke-width="0.1" letter-spacing="0.5">DAF<tspan font-size="7" dy="-4.5">-/-</tspan></text>
<text transform="translate(189.5 376)" font-size="10" text-anchor="middle" font-family='"Liberation Serif", serif' font-weight="normal" fill="#111" stroke="#111" stroke-width="0.15">1</text>
<text transform="translate(201.5 376)" font-size="10" text-anchor="middle" font-family='"Liberation Serif", serif' font-weight="normal" fill="#111" stroke="#111" stroke-width="0.15">2</text>
<text transform="translate(213 376)" font-size="10" text-anchor="middle" font-family='"Liberation Serif", serif' font-weight="normal" fill="#111" stroke="#111" stroke-width="0.15">1</text>
<text transform="translate(224.6 376)" font-size="10" text-anchor="middle" font-family='"Liberation Serif", serif' font-weight="normal" fill="#111" stroke="#111" stroke-width="0.15">2</text>
<text transform="translate(237 376)" font-size="10" text-anchor="middle" font-family='"Liberation Serif", serif' font-weight="normal" fill="#111" stroke="#111" stroke-width="0.15">1</text>
<text transform="translate(248.5 376)" font-size="10" text-anchor="middle" font-family='"Liberation Serif", serif' font-weight="normal" fill="#111" stroke="#111" stroke-width="0.15">2</text>
<text transform="translate(261 376)" font-size="10" text-anchor="middle" font-family='"Liberation Serif", serif' font-weight="normal" fill="#111" stroke="#111" stroke-width="0.15">1</text>
<text transform="translate(270 376)" font-size="10" text-anchor="middle" font-family='"Liberation Serif", serif' font-weight="normal" fill="#111" stroke="#111" stroke-width="0.15">2</text>
<text transform="translate(282 376)" font-size="10" text-anchor="middle" font-family='"Liberation Serif", serif' font-weight="normal" fill="#111" stroke="#111" stroke-width="0.15">1</text>
<text transform="translate(293.5 376)" font-size="10" text-anchor="middle" font-family='"Liberation Serif", serif' font-weight="normal" fill="#111" stroke="#111" stroke-width="0.15">2</text>
<text transform="translate(306 376)" font-size="10" text-anchor="middle" font-family='"Liberation Serif", serif' font-weight="normal" fill="#111" stroke="#111" stroke-width="0.15">1</text>
<text transform="translate(317.7 376)" font-size="10" text-anchor="middle" font-family='"Liberation Serif", serif' font-weight="normal" fill="#111" stroke="#111" stroke-width="0.15">2</text>
<rect x="342" y="378.8" width="118.5" height="45" fill="#0d0d0d"/>
<rect x="342" y="423.8" width="118.5" height="47.2" fill="#f0f0f0"/>
<g filter="url(#bl08)">
<rect x="350" y="381.3" width="11" height="10.2" fill="#5a5a5a"/>
<path d="M350 391.5L361 391.5L357.92 412.4L353.08 412.4Z" fill="url(#smear)"/>
<ellipse cx="355.5" cy="391.5" rx="5.5" ry="3" fill="#cfcfcf"/>
<ellipse cx="355.5" cy="414.4" rx="3.96" ry="2.6" fill="#a8a8a8"/>
<ellipse cx="355.5" cy="414.1" rx="1.65" ry="1.2" fill="#a0a0a0"/>
<rect x="353.3" y="416.4" width="4.4" height="5" fill="#333"/>
<rect x="363.5" y="381.3" width="11" height="10.2" fill="#5a5a5a"/>
<path d="M363.5 391.5L374.5 391.5L371.42 412.4L366.58 412.4Z" fill="url(#smear)"/>
<ellipse cx="369" cy="391.5" rx="5.5" ry="3" fill="#cfcfcf"/>
<ellipse cx="369" cy="414.4" rx="3.96" ry="2.6" fill="#a8a8a8"/>
<ellipse cx="369" cy="414.1" rx="1.65" ry="1.2" fill="#a0a0a0"/>
<rect x="366.8" y="416.4" width="4.4" height="5" fill="#333"/>
<rect x="376.9" y="381.3" width="11" height="10.2" fill="#5a5a5a"/>
<path d="M376.9 391.5L387.9 391.5L384.82 412.4L379.98 412.4Z" fill="url(#smear)"/>
<ellipse cx="382.4" cy="391.5" rx="5.5" ry="3" fill="#cfcfcf"/>
<ellipse cx="382.4" cy="414.4" rx="3.96" ry="2.6" fill="#a8a8a8"/>
<ellipse cx="382.4" cy="414.1" rx="1.65" ry="1.2" fill="#a0a0a0"/>
<rect x="380.2" y="416.4" width="4.4" height="5" fill="#333"/>
<rect x="390.4" y="381.3" width="11" height="10.2" fill="#5a5a5a"/>
<path d="M390.4 391.5L401.4 391.5L398.32 412.4L393.48 412.4Z" fill="url(#smear)"/>
<ellipse cx="395.9" cy="391.5" rx="5.5" ry="3" fill="#cfcfcf"/>
<ellipse cx="395.9" cy="414.4" rx="3.96" ry="2.6" fill="#a8a8a8"/>
<ellipse cx="395.9" cy="414.1" rx="1.65" ry="1.2" fill="#a0a0a0"/>
<rect x="393.7" y="416.4" width="4.4" height="5" fill="#333"/>
<rect x="403.9" y="381.3" width="11" height="10.2" fill="#5a5a5a"/>
<path d="M403.9 391.5L414.9 391.5L411.82 412.4L406.98 412.4Z" fill="url(#smear)"/>
<ellipse cx="409.4" cy="391.5" rx="5.5" ry="3" fill="#cfcfcf"/>
<ellipse cx="409.4" cy="414.4" rx="3.96" ry="2.6" fill="#a8a8a8"/>
<ellipse cx="409.4" cy="414.1" rx="1.65" ry="1.2" fill="#a0a0a0"/>
<rect x="407.2" y="416.4" width="4.4" height="5" fill="#333"/>
<rect x="416.5" y="381.3" width="11" height="10.2" fill="#5a5a5a"/>
<path d="M416.5 391.5L427.5 391.5L424.42 412.4L419.58 412.4Z" fill="url(#smear)"/>
<ellipse cx="422" cy="391.5" rx="5.5" ry="3" fill="#cfcfcf"/>
<ellipse cx="422" cy="414.4" rx="3.96" ry="2.6" fill="#a8a8a8"/>
<ellipse cx="422" cy="414.1" rx="1.65" ry="1.2" fill="#a0a0a0"/>
<rect x="419.8" y="416.4" width="4.4" height="5" fill="#333"/>
<rect x="430.8" y="381.3" width="11" height="10.2" fill="#5a5a5a"/>
<path d="M430.8 391.5L441.8 391.5L438.72 412.4L433.88 412.4Z" fill="url(#smear)"/>
<ellipse cx="436.3" cy="391.5" rx="5.5" ry="3" fill="#cfcfcf"/>
<ellipse cx="436.3" cy="414.4" rx="3.96" ry="2.6" fill="#a8a8a8"/>
<ellipse cx="436.3" cy="414.1" rx="1.65" ry="1.2" fill="#a0a0a0"/>
<rect x="434.1" y="416.4" width="4.4" height="5" fill="#333"/>
<rect x="444.2" y="381.3" width="11" height="10.2" fill="#5a5a5a"/>
<path d="M444.2 391.5L455.2 391.5L452.12 412.4L447.28 412.4Z" fill="url(#smear)"/>
<ellipse cx="449.7" cy="391.5" rx="5.5" ry="3" fill="#cfcfcf"/>
<ellipse cx="449.7" cy="414.4" rx="3.96" ry="2.6" fill="#a8a8a8"/>
<ellipse cx="449.7" cy="414.1" rx="1.65" ry="1.2" fill="#a0a0a0"/>
<rect x="447.5" y="416.4" width="4.4" height="5" fill="#333"/>
</g>
<g filter="url(#bl15)">
<rect x="434" y="449" width="6" height="14" fill="#c4c4c4" opacity="0.3"/>
<rect x="447.2" y="449" width="5" height="12" fill="#c4c4c4" opacity="0.24"/>
</g>
<g filter="url(#bl07)">
<ellipse cx="407.5" cy="442.7" rx="4.6" ry="2.9" fill="#000" opacity="1"/>
<ellipse cx="420.9" cy="442.7" rx="3.8" ry="2.5" fill="#000" opacity="1"/>
<ellipse cx="437" cy="444.5" rx="6" ry="5.8" fill="#000" opacity="1"/>
<ellipse cx="449.7" cy="445.4" rx="5.2" ry="5.2" fill="#000" opacity="1"/>
</g>
<text transform="translate(343.9 468.2)" font-size="12" text-anchor="start" font-family='"Liberation Sans", sans-serif' font-weight="normal" fill="#111" stroke="#111" stroke-width="0.15">Fat</text>
<line x1="355.4" y1="348" x2="405.5" y2="348" stroke="#000" stroke-width="1.7"/>
<text transform="translate(380.8 344)" font-size="11" text-anchor="middle" font-family='"Liberation Serif", serif' font-weight="normal" fill="#111" stroke="#111" stroke-width="0.15">0</text>
<line x1="414.2" y1="348" x2="459.7" y2="348" stroke="#000" stroke-width="1.7"/>
<text transform="translate(433.4 344)" font-size="11" text-anchor="middle" font-family='"Liberation Serif", serif' font-weight="normal" fill="#111" stroke="#111" stroke-width="0.15">1</text>
<text transform="translate(453.5 344)" font-size="11" text-anchor="middle" font-family='"Liberation Serif", serif' font-weight="normal" fill="#111" stroke="#111" stroke-width="0.15">hr</text>
<line x1="352" y1="366.5" x2="372.7" y2="366.5" stroke="#000" stroke-width="1.7"/>
<line x1="379" y1="366.5" x2="399" y2="366.5" stroke="#000" stroke-width="1.7"/>
<line x1="407.3" y1="366.5" x2="425.8" y2="366.5" stroke="#000" stroke-width="1.7"/>
<line x1="433.9" y1="366.5" x2="453.5" y2="366.5" stroke="#000" stroke-width="1.7"/>
<text transform="translate(362.8 364.2) scale(1 0.95)" font-size="8.5" text-anchor="middle" font-family='"Liberation Serif", serif' font-weight="normal" fill="#111" stroke="#111" stroke-width="0.1" letter-spacing="0.7">WT</text>
<text transform="translate(379.6 364.2) scale(1 0.95)" font-size="8.5" text-anchor="start" font-family='"Liberation Serif", serif' font-weight="normal" fill="#111" stroke="#111" stroke-width="0.1" letter-spacing="0.5">DAF<tspan font-size="6.5" dy="-4.5">-/-</tspan></text>
<text transform="translate(416.5 364.2) scale(1 0.95)" font-size="8.5" text-anchor="middle" font-family='"Liberation Serif", serif' font-weight="normal" fill="#111" stroke="#111" stroke-width="0.1" letter-spacing="0.7">WT</text>
<text transform="translate(434 364.2) scale(1 0.95)" font-size="8.5" text-anchor="start" font-family='"Liberation Serif", serif' font-weight="normal" fill="#111" stroke="#111" stroke-width="0.1" letter-spacing="0.5">DAF<tspan font-size="6.5" dy="-4.5">-/-</tspan></text>
<text transform="translate(353.8 377)" font-size="10" text-anchor="middle" font-family='"Liberation Serif", serif' font-weight="normal" fill="#111" stroke="#111" stroke-width="0.15">1</text>
<text transform="translate(366.9 377)" font-size="10" text-anchor="middle" font-family='"Liberation Serif", serif' font-weight="normal" fill="#111" stroke="#111" stroke-width="0.15">2</text>
<text transform="translate(383 377)" font-size="10" text-anchor="middle" font-family='"Liberation Serif", serif' font-weight="normal" fill="#111" stroke="#111" stroke-width="0.15">1</text>
<text transform="translate(397 377)" font-size="10" text-anchor="middle" font-family='"Liberation Serif", serif' font-weight="normal" fill="#111" stroke="#111" stroke-width="0.15">2</text>
<text transform="translate(410.3 377)" font-size="10" text-anchor="middle" font-family='"Liberation Serif", serif' font-weight="normal" fill="#111" stroke="#111" stroke-width="0.15">1</text>
<text transform="translate(423 377)" font-size="10" text-anchor="middle" font-family='"Liberation Serif", serif' font-weight="normal" fill="#111" stroke="#111" stroke-width="0.15">2</text>
<text transform="translate(437.3 377)" font-size="10" text-anchor="middle" font-family='"Liberation Serif", serif' font-weight="normal" fill="#111" stroke="#111" stroke-width="0.15">1</text>
<text transform="translate(448.9 377)" font-size="10" text-anchor="middle" font-family='"Liberation Serif", serif' font-weight="normal" fill="#111" stroke="#111" stroke-width="0.15">2</text>
<text transform="translate(466.5 401.6) rotate(90) scale(1 1.05)" font-size="12.5" text-anchor="middle" font-family='"Liberation Serif", serif' font-weight="normal" fill="#111" stroke="#111" stroke-width="0.35">RNA</text>
<text transform="translate(467 452.1) rotate(90) scale(1 1.1)" font-size="12" text-anchor="middle" font-family='"Liberation Serif", serif' font-weight="normal" fill="#111" stroke="#111" stroke-width="0.15">IL-6</text>
<text transform="translate(12.5 506.3)" font-size="26.3" text-anchor="start" font-family='"Liberation Sans", sans-serif' font-weight="bold" fill="#000" stroke="#000" stroke-width="0.5">F</text>
<line x1="66.25" y1="514.25" x2="66.25" y2="643.75" stroke="#3a3a3a" stroke-width="1"/>
<line x1="63.25" y1="643.75" x2="66.25" y2="643.75" stroke="#3a3a3a" stroke-width="1"/>
<text transform="translate(56.75 648.75) scale(1.12 1.05)" font-size="14" text-anchor="end" font-family='"Liberation Serif", serif' font-weight="normal" fill="#111" stroke="#111" stroke-width="0.15">0</text>
<line x1="63.25" y1="600.58" x2="66.25" y2="600.58" stroke="#3a3a3a" stroke-width="1"/>
<text transform="translate(56.75 605.58) scale(1.12 1.05)" font-size="14" text-anchor="end" font-family='"Liberation Serif", serif' font-weight="normal" fill="#111" stroke="#111" stroke-width="0.15">2</text>
<line x1="63.25" y1="557.42" x2="66.25" y2="557.42" stroke="#3a3a3a" stroke-width="1"/>
<text transform="translate(56.75 562.42) scale(1.12 1.05)" font-size="14" text-anchor="end" font-family='"Liberation Serif", serif' font-weight="normal" fill="#111" stroke="#111" stroke-width="0.15">4</text>
<line x1="63.25" y1="514.25" x2="66.25" y2="514.25" stroke="#3a3a3a" stroke-width="1"/>
<text transform="translate(56.75 519.25) scale(1.12 1.05)" font-size="14" text-anchor="end" font-family='"Liberation Serif", serif' font-weight="normal" fill="#111" stroke="#111" stroke-width="0.15">6</text>
<line x1="66.25" y1="643.75" x2="106.6" y2="643.75" stroke="#3a3a3a" stroke-width="1"/>
<line x1="106.6" y1="643.75" x2="106.6" y2="646.75" stroke="#3a3a3a" stroke-width="1"/>
<rect x="74.5" y="617.5" width="11.75" height="26.25" fill="#fff" stroke="#000" stroke-width="1.2"/>
<line x1="80.4" y1="611" x2="80.4" y2="617.5" stroke="#000" stroke-width="1.3"/>
<line x1="77.9" y1="611" x2="82.9" y2="611" stroke="#000" stroke-width="1.3"/>
<rect x="86.25" y="544.5" width="12.5" height="99.25" fill="#000"/>
<line x1="92.5" y1="533" x2="92.5" y2="544.5" stroke="#000" stroke-width="1.3"/>
<line x1="90" y1="533" x2="95" y2="533" stroke="#000" stroke-width="1.3"/>
<text transform="translate(94.2 524.5) scale(1 1.1)" font-size="12" text-anchor="middle" font-family='"Liberation Serif", serif' font-weight="normal" fill="#3a3a3a" stroke="#3a3a3a" stroke-width="0.15">**</text>
<text transform="translate(34.6 581.3) rotate(-90) scale(1 0.86)" font-size="13.4" text-anchor="middle" font-family='"Liberation Serif", serif' font-weight="normal" fill="#111" stroke="#111" stroke-width="0.15">ng/mL</text>
<line x1="147.5" y1="517.5" x2="147.5" y2="643.75" stroke="#3a3a3a" stroke-width="1"/>
<line x1="144.5" y1="643.75" x2="147.5" y2="643.75" stroke="#3a3a3a" stroke-width="1"/>
<line x1="144.5" y1="612.19" x2="147.5" y2="612.19" stroke="#3a3a3a" stroke-width="1"/>
<text transform="translate(142 617.24) scale(1 1.05)" font-size="12" text-anchor="end" font-family='"Liberation Serif", serif' font-weight="normal" fill="#111" stroke="#111" stroke-width="0.15">200</text>
<line x1="144.5" y1="580.62" x2="147.5" y2="580.62" stroke="#3a3a3a" stroke-width="1"/>
<text transform="translate(142 585.64) scale(1 1.05)" font-size="12" text-anchor="end" font-family='"Liberation Serif", serif' font-weight="normal" fill="#111" stroke="#111" stroke-width="0.15">400</text>
<line x1="144.5" y1="549.06" x2="147.5" y2="549.06" stroke="#3a3a3a" stroke-width="1"/>
<text transform="translate(142 554.84) scale(1 1.05)" font-size="12" text-anchor="end" font-family='"Liberation Serif", serif' font-weight="normal" fill="#111" stroke="#111" stroke-width="0.15">600</text>
<line x1="144.5" y1="517.5" x2="147.5" y2="517.5" stroke="#3a3a3a" stroke-width="1"/>
<text transform="translate(142 523.34) scale(1 1.05)" font-size="12" text-anchor="end" font-family='"Liberation Serif", serif' font-weight="normal" fill="#111" stroke="#111" stroke-width="0.15">800</text>
<line x1="147.5" y1="643.75" x2="233" y2="643.75" stroke="#3a3a3a" stroke-width="1"/>
<line x1="190.25" y1="643.75" x2="190.25" y2="646.75" stroke="#3a3a3a" stroke-width="1"/>
<line x1="233" y1="643.75" x2="233" y2="646.75" stroke="#3a3a3a" stroke-width="1"/>
<rect x="157" y="632" width="11.75" height="11.75" fill="#fff" stroke="#000" stroke-width="1.2"/>
<line x1="163" y1="628" x2="163" y2="632" stroke="#000" stroke-width="1.3"/>
<line x1="160.5" y1="628" x2="165.5" y2="628" stroke="#000" stroke-width="1.3"/>
<rect x="168.75" y="586.25" width="13.75" height="57.5" fill="#000"/>
<line x1="175.5" y1="580.5" x2="175.5" y2="586.25" stroke="#000" stroke-width="1.3"/>
<line x1="173" y1="580.5" x2="178" y2="580.5" stroke="#000" stroke-width="1.3"/>
<rect x="200" y="622" width="12.5" height="21.75" fill="#fff" stroke="#000" stroke-width="1.2"/>
<line x1="206.25" y1="615.5" x2="206.25" y2="622" stroke="#000" stroke-width="1.3"/>
<line x1="203.75" y1="615.5" x2="208.75" y2="615.5" stroke="#000" stroke-width="1.3"/>
<rect x="212.5" y="542" width="13.75" height="101.75" fill="#000"/>
<line x1="219.5" y1="525.5" x2="219.5" y2="542" stroke="#000" stroke-width="1.3"/>
<line x1="217" y1="525.5" x2="222" y2="525.5" stroke="#000" stroke-width="1.3"/>
<text transform="translate(175 575) scale(1 1.1)" font-size="12" text-anchor="middle" font-family='"Liberation Serif", serif' font-weight="normal" fill="#3a3a3a" stroke="#3a3a3a" stroke-width="0.15">**</text>
<text transform="translate(220 519) scale(1 1.1)" font-size="12" text-anchor="middle" font-family='"Liberation Serif", serif' font-weight="normal" fill="#3a3a3a" stroke="#3a3a3a" stroke-width="0.15">**</text>
<text transform="translate(117.2 571) rotate(-90) scale(1 0.71)" font-size="15.8" text-anchor="middle" font-family='"Liberation Serif", serif' font-weight="normal" fill="#111" stroke="#111" stroke-width="0.45">pg/mL</text>
<rect x="159" y="519" width="4" height="4" fill="#fff" stroke="#000" stroke-width="1.1"/>
<text transform="translate(165.5 524.5) scale(1 1.1)" font-size="13" text-anchor="start" font-family='"Liberation Serif", serif' font-weight="normal" fill="#111" stroke="#111" stroke-width="0.15">WT</text>
<rect x="159" y="532.5" width="4" height="4" fill="#000"/>
<text transform="translate(165.5 539) scale(1 1.1)" font-size="13" text-anchor="start" font-family='"Liberation Serif", serif' font-weight="normal" fill="#111" stroke="#111" stroke-width="0.15">DAF<tspan font-size="9.75" dy="-5" letter-spacing="0">-/-</tspan></text>
<text transform="translate(82.4 656.5) scale(1 1.1)" font-size="12" text-anchor="middle" font-family='"Liberation Serif", serif' font-weight="normal" fill="#111" stroke="#111" stroke-width="0.15">IL-6</text>
<text transform="translate(170.8 656.5) scale(1 1.1)" font-size="12" text-anchor="middle" font-family='"Liberation Serif", serif' font-weight="normal" fill="#111" stroke="#111" stroke-width="0.15">TNF-&#945;</text>
<text transform="translate(211.8 656.5) scale(1 1.1)" font-size="12" text-anchor="middle" font-family='"Liberation Serif", serif' font-weight="normal" fill="#111" stroke="#111" stroke-width="0.15">IL-1&#946;</text>
<text transform="translate(282.8 511.8)" font-size="26.3" text-anchor="start" font-family='"Liberation Sans", sans-serif' font-weight="bold" fill="#000" stroke="#000" stroke-width="0.5">G</text>
<line x1="350.2" y1="517.7" x2="350.2" y2="631.3" stroke="#3a3a3a" stroke-width="1"/>
<line x1="347.2" y1="631.3" x2="350.2" y2="631.3" stroke="#3a3a3a" stroke-width="1"/>
<text transform="translate(343.1 631.72) scale(1 1.1)" font-size="10.5" text-anchor="end" font-family='"Liberation Serif", serif' font-weight="normal" fill="#111" stroke="#111" stroke-width="0.15">0</text>
<line x1="347.2" y1="612.37" x2="350.2" y2="612.37" stroke="#3a3a3a" stroke-width="1"/>
<text transform="translate(343.1 611.82) scale(1 1.1)" font-size="10.5" text-anchor="end" font-family='"Liberation Serif", serif' font-weight="normal" fill="#111" stroke="#111" stroke-width="0.15">20</text>
<line x1="347.2" y1="593.43" x2="350.2" y2="593.43" stroke="#3a3a3a" stroke-width="1"/>
<text transform="translate(343.1 594.42) scale(1 1.1)" font-size="10.5" text-anchor="end" font-family='"Liberation Serif", serif' font-weight="normal" fill="#111" stroke="#111" stroke-width="0.15">40</text>
<line x1="347.2" y1="574.5" x2="350.2" y2="574.5" stroke="#3a3a3a" stroke-width="1"/>
<text transform="translate(343.1 576.12) scale(1 1.1)" font-size="10.5" text-anchor="end" font-family='"Liberation Serif", serif' font-weight="normal" fill="#111" stroke="#111" stroke-width="0.15">60</text>
<line x1="347.2" y1="555.57" x2="350.2" y2="555.57" stroke="#3a3a3a" stroke-width="1"/>
<text transform="translate(343.1 557.02) scale(1 1.1)" font-size="10.5" text-anchor="end" font-family='"Liberation Serif", serif' font-weight="normal" fill="#111" stroke="#111" stroke-width="0.15">80</text>
<line x1="347.2" y1="536.63" x2="350.2" y2="536.63" stroke="#3a3a3a" stroke-width="1"/>
<text transform="translate(343.1 537.92) scale(1 1.1)" font-size="10.5" text-anchor="end" font-family='"Liberation Serif", serif' font-weight="normal" fill="#111" stroke="#111" stroke-width="0.15">100</text>
<line x1="347.2" y1="517.7" x2="350.2" y2="517.7" stroke="#3a3a3a" stroke-width="1"/>
<text transform="translate(343.1 521.22) scale(1 1.1)" font-size="10.5" text-anchor="end" font-family='"Liberation Serif", serif' font-weight="normal" fill="#111" stroke="#111" stroke-width="0.15">120</text>
<line x1="350.2" y1="631.3" x2="405.8" y2="631.3" stroke="#3a3a3a" stroke-width="1"/>
<line x1="405.8" y1="631.3" x2="405.8" y2="634.3" stroke="#3a3a3a" stroke-width="1"/>
<rect x="359" y="612" width="13.5" height="19.3" fill="#fff" stroke="#000" stroke-width="1.2"/>
<line x1="365.75" y1="608.7" x2="365.75" y2="612" stroke="#000" stroke-width="1.3"/>
<line x1="363.25" y1="608.7" x2="368.25" y2="608.7" stroke="#000" stroke-width="1.3"/>
<rect x="372.5" y="552.5" width="12.9" height="78.8" fill="#000"/>
<line x1="379" y1="539.7" x2="379" y2="552.5" stroke="#000" stroke-width="1.3"/>
<line x1="376.5" y1="539.7" x2="381.5" y2="539.7" stroke="#000" stroke-width="1.3"/>
<rect x="385.4" y="614" width="11.7" height="17.3" fill="url(#hs)" stroke="#000" stroke-width="1.2"/>
<line x1="391.25" y1="612" x2="391.25" y2="614" stroke="#000" stroke-width="1.3"/>
<line x1="388.75" y1="612" x2="393.75" y2="612" stroke="#000" stroke-width="1.3"/>
<text transform="translate(318 571.75) rotate(-90) scale(1 0.77)" font-size="16.2" text-anchor="middle" font-family='"Liberation Serif", serif' font-weight="normal" fill="#111" stroke="#111" stroke-width="0.4">ng/mL</text>
<line x1="442.2" y1="527.7" x2="442.2" y2="631.3" stroke="#3a3a3a" stroke-width="1"/>
<line x1="439.2" y1="631.3" x2="442.2" y2="631.3" stroke="#3a3a3a" stroke-width="1"/>
<line x1="439.2" y1="596.77" x2="442.2" y2="596.77" stroke="#3a3a3a" stroke-width="1"/>
<text transform="translate(436.2 599.52) scale(1.1 1.1)" font-size="10.5" text-anchor="end" font-family='"Liberation Serif", serif' font-weight="normal" fill="#111" stroke="#111" stroke-width="0.15">1.0</text>
<line x1="439.2" y1="562.23" x2="442.2" y2="562.23" stroke="#3a3a3a" stroke-width="1"/>
<text transform="translate(436.2 565.32) scale(1.1 1.1)" font-size="10.5" text-anchor="end" font-family='"Liberation Serif", serif' font-weight="normal" fill="#111" stroke="#111" stroke-width="0.15">2.0</text>
<line x1="439.2" y1="527.7" x2="442.2" y2="527.7" stroke="#3a3a3a" stroke-width="1"/>
<text transform="translate(436.2 531.72) scale(1.1 1.1)" font-size="10.5" text-anchor="end" font-family='"Liberation Serif", serif' font-weight="normal" fill="#111" stroke="#111" stroke-width="0.15">3.0</text>
<line x1="442.2" y1="631.3" x2="512" y2="631.3" stroke="#3a3a3a" stroke-width="1"/>
<line x1="512" y1="631.3" x2="512" y2="634.3" stroke="#3a3a3a" stroke-width="1"/>
<rect x="453.5" y="596" width="14.5" height="35.3" fill="#fff" stroke="#000" stroke-width="1.2"/>
<line x1="460.75" y1="588" x2="460.75" y2="596" stroke="#000" stroke-width="1.3"/>
<line x1="458.25" y1="588" x2="463.25" y2="588" stroke="#000" stroke-width="1.3"/>
<rect x="468" y="543" width="16.7" height="88.3" fill="#000"/>
<line x1="476.3" y1="528.5" x2="476.3" y2="543" stroke="#000" stroke-width="1.3"/>
<line x1="473.8" y1="528.5" x2="478.8" y2="528.5" stroke="#000" stroke-width="1.3"/>
<rect x="484.7" y="596" width="14.5" height="35.3" fill="url(#hs)" stroke="#000" stroke-width="1.2"/>
<line x1="492" y1="590.8" x2="492" y2="596" stroke="#000" stroke-width="1.3"/>
<line x1="489.5" y1="590.8" x2="494.5" y2="590.8" stroke="#000" stroke-width="1.3"/>
<text transform="translate(378 646.5) scale(1 1.1)" font-size="12" text-anchor="middle" font-family='"Liberation Serif", serif' font-weight="normal" fill="#111" stroke="#111" stroke-width="0.15">IL-6</text>
<text transform="translate(483 647) scale(1.06 1.1)" font-size="12" text-anchor="middle" font-family='"Liberation Serif", serif' font-weight="normal" fill="#111" stroke="#111" stroke-width="0.15">TNF-&#945;</text>
<rect x="358.6" y="509.2" width="3.8" height="4.4" fill="#fff" stroke="#000" stroke-width="1.4"/>
<text transform="translate(365.6 515.5) scale(1 0.85)" font-size="13" text-anchor="start" font-family='"Liberation Serif", serif' font-weight="normal" fill="#111" stroke="#111" stroke-width="0.15" letter-spacing="0.2">WT</text>
<rect x="401" y="509" width="5" height="5.2" fill="#000"/>
<text transform="translate(407.5 515.5) scale(1 0.85)" font-size="13" text-anchor="start" font-family='"Liberation Serif", serif' font-weight="normal" fill="#111" stroke="#111" stroke-width="0.15">DAF<tspan font-size="10.5" dy="-4.5" letter-spacing="0">-/-</tspan></text>
<rect x="459.4" y="509" width="5" height="5.2" fill="#000"/>
<text transform="translate(465.2 515.5) scale(1 0.85)" font-size="13" text-anchor="start" font-family='"Liberation Serif", serif' font-weight="normal" fill="#111" stroke="#111" stroke-width="0.15">CD59<tspan font-size="10.5" dy="-4.5" letter-spacing="0">-/-</tspan></text>
<text transform="translate(14.2 673.8)" font-size="26.3" text-anchor="start" font-family='"Liberation Sans", sans-serif' font-weight="bold" fill="#000" stroke="#000" stroke-width="0.5">H</text>
<line x1="71.25" y1="682" x2="71.25" y2="818.25" stroke="#3a3a3a" stroke-width="1"/>
<line x1="68.25" y1="818.25" x2="71.25" y2="818.25" stroke="#3a3a3a" stroke-width="1"/>
<text transform="translate(66.75 823.81)" font-size="12.5" text-anchor="end" font-family='"Liberation Serif", serif' font-weight="normal" fill="#111" stroke="#111" stroke-width="0.15">0</text>
<line x1="68.25" y1="791" x2="71.25" y2="791" stroke="#3a3a3a" stroke-width="1"/>
<text transform="translate(66.75 796.41)" font-size="12.5" text-anchor="end" font-family='"Liberation Serif", serif' font-weight="normal" fill="#111" stroke="#111" stroke-width="0.15">20</text>
<line x1="68.25" y1="763.75" x2="71.25" y2="763.75" stroke="#3a3a3a" stroke-width="1"/>
<text transform="translate(66.75 770.01)" font-size="12.5" text-anchor="end" font-family='"Liberation Serif", serif' font-weight="normal" fill="#111" stroke="#111" stroke-width="0.15">40</text>
<line x1="68.25" y1="736.5" x2="71.25" y2="736.5" stroke="#3a3a3a" stroke-width="1"/>
<text transform="translate(66.75 742.71)" font-size="12.5" text-anchor="end" font-family='"Liberation Serif", serif' font-weight="normal" fill="#111" stroke="#111" stroke-width="0.15">60</text>
<line x1="68.25" y1="709.25" x2="71.25" y2="709.25" stroke="#3a3a3a" stroke-width="1"/>
<text transform="translate(66.75 714.01)" font-size="12.5" text-anchor="end" font-family='"Liberation Serif", serif' font-weight="normal" fill="#111" stroke="#111" stroke-width="0.15">80</text>
<line x1="68.25" y1="682" x2="71.25" y2="682" stroke="#3a3a3a" stroke-width="1"/>
<text transform="translate(66.75 686.11)" font-size="12.5" text-anchor="end" font-family='"Liberation Serif", serif' font-weight="normal" fill="#111" stroke="#111" stroke-width="0.15">100</text>
<line x1="71.25" y1="818.25" x2="197.8" y2="818.25" stroke="#3a3a3a" stroke-width="1"/>
<line x1="134.5" y1="818.25" x2="134.5" y2="821.25" stroke="#3a3a3a" stroke-width="1"/>
<line x1="197.8" y1="818.25" x2="197.8" y2="821.25" stroke="#3a3a3a" stroke-width="1"/>
<rect x="81.25" y="726.25" width="14.5" height="92" fill="#fff" stroke="#000" stroke-width="1.2"/>
<line x1="88.5" y1="713.75" x2="88.5" y2="726.25" stroke="#000" stroke-width="1.3"/>
<line x1="86" y1="713.75" x2="91" y2="713.75" stroke="#000" stroke-width="1.3"/>
<rect x="95.75" y="758.75" width="14.25" height="59.5" fill="#000"/>
<line x1="102.88" y1="747.5" x2="102.88" y2="758.75" stroke="#000" stroke-width="1.3"/>
<line x1="100.38" y1="747.5" x2="105.38" y2="747.5" stroke="#000" stroke-width="1.3"/>
<rect x="110" y="725.75" width="12.5" height="92.5" fill="url(#hs)" stroke="#000" stroke-width="1.2"/>
<line x1="116.25" y1="711.25" x2="116.25" y2="725.75" stroke="#000" stroke-width="1.3"/>
<line x1="113.75" y1="711.25" x2="118.75" y2="711.25" stroke="#000" stroke-width="1.3"/>
<rect x="145.5" y="712.3" width="13.9" height="105.95" fill="#fff" stroke="#000" stroke-width="1.2"/>
<line x1="152.45" y1="702.5" x2="152.45" y2="712.3" stroke="#000" stroke-width="1.3"/>
<line x1="149.95" y1="702.5" x2="154.95" y2="702.5" stroke="#000" stroke-width="1.3"/>
<rect x="159.4" y="752.3" width="13.8" height="65.95" fill="#000"/>
<line x1="166.3" y1="743" x2="166.3" y2="752.3" stroke="#000" stroke-width="1.3"/>
<line x1="163.8" y1="743" x2="168.8" y2="743" stroke="#000" stroke-width="1.3"/>
<rect x="173.2" y="724.6" width="14.5" height="93.65" fill="url(#hs)" stroke="#000" stroke-width="1.2"/>
<line x1="180.45" y1="713.8" x2="180.45" y2="724.6" stroke="#000" stroke-width="1.3"/>
<line x1="177.95" y1="713.8" x2="182.95" y2="713.8" stroke="#000" stroke-width="1.3"/>
<text transform="translate(102.5 735.5) scale(1 1.1)" font-size="10" text-anchor="middle" font-family='"Liberation Serif", serif' font-weight="normal" fill="#222" stroke="#222" stroke-width="0.15">*</text>
<text transform="translate(166.25 728.5) scale(1 1.1)" font-size="10" text-anchor="middle" font-family='"Liberation Serif", serif' font-weight="normal" fill="#222" stroke="#222" stroke-width="0.15">*</text>
<text transform="translate(103.1 837) scale(1 0.95)" font-size="16.25" text-anchor="middle" font-family='"Liberation Serif", serif' font-weight="normal" fill="#111" stroke="#111" stroke-width="0.15">p40</text>
<text transform="translate(172.9 837) scale(1 0.95)" font-size="16.25" text-anchor="middle" font-family='"Liberation Serif", serif' font-weight="normal" fill="#111" stroke="#111" stroke-width="0.15">p70</text>
<text transform="translate(44 748.9) rotate(-90) scale(1 0.95)" font-size="14.2" text-anchor="middle" font-family='"Liberation Serif", serif' font-weight="normal" fill="#111" stroke="#111" stroke-width="0.15">IL-12 (ng/mL)</text>
<rect x="80.2" y="684.2" width="4.6" height="4" fill="#fff" stroke="#000" stroke-width="1.2"/>
<text transform="translate(88.5 689)" font-size="12.5" text-anchor="start" font-family='"Liberation Serif", serif' font-weight="normal" fill="#111" stroke="#111" stroke-width="0.15" letter-spacing="0.4">WT</text>
<rect x="122.7" y="683.7" width="6" height="4.8" fill="#000"/>
<text transform="translate(130.4 689)" font-size="12.5" text-anchor="start" font-family='"Liberation Serif", serif' font-weight="normal" fill="#111" stroke="#111" stroke-width="0.15" letter-spacing="0.8">DAF<tspan font-size="10.5" dy="-6.5" letter-spacing="0">-/-</tspan></text>
<rect x="177.8" y="684" width="5.2" height="4.2" fill="#777" stroke="#000" stroke-width="1.2"/>
<text transform="translate(184.8 689)" font-size="12.5" text-anchor="start" font-family='"Liberation Serif", serif' font-weight="normal" fill="#111" stroke="#111" stroke-width="0.15">CD59<tspan font-size="10.5" dy="-6.5" letter-spacing="0">-/-</tspan></text>
<text transform="translate(274.6 688)" font-size="26.3" text-anchor="start" font-family='"Liberation Sans", sans-serif' font-weight="bold" fill="#000" stroke="#000" stroke-width="0.5">I</text>
<line x1="313" y1="680.75" x2="313" y2="813" stroke="#3a3a3a" stroke-width="1"/>
<line x1="310" y1="768.92" x2="313" y2="768.92" stroke="#3a3a3a" stroke-width="1"/>
<text transform="translate(308.5 772.92) scale(1 1.1)" font-size="11.5" text-anchor="end" font-family='"Liberation Serif", serif' font-weight="normal" fill="#111" stroke="#111" stroke-width="0.15">100</text>
<line x1="310" y1="724.83" x2="313" y2="724.83" stroke="#3a3a3a" stroke-width="1"/>
<text transform="translate(308.5 728.83) scale(1 1.1)" font-size="11.5" text-anchor="end" font-family='"Liberation Serif", serif' font-weight="normal" fill="#111" stroke="#111" stroke-width="0.15">200</text>
<line x1="310" y1="680.75" x2="313" y2="680.75" stroke="#3a3a3a" stroke-width="1"/>
<text transform="translate(308.5 684.75) scale(1 1.1)" font-size="11.5" text-anchor="end" font-family='"Liberation Serif", serif' font-weight="normal" fill="#111" stroke="#111" stroke-width="0.15">300</text>
<line x1="313" y1="813" x2="506.5" y2="813" stroke="#3a3a3a" stroke-width="1"/>
<text transform="translate(302.5 824) scale(1 1.1)" font-size="11.5" text-anchor="middle" font-family='"Liberation Serif", serif' font-weight="normal" fill="#111" stroke="#111" stroke-width="0.15">0</text>
<text transform="translate(345.17 828) scale(1 1.1)" font-size="10.5" text-anchor="middle" font-family='"Liberation Serif", serif' font-weight="normal" fill="#333" letter-spacing="0.3">1000</text>
<line x1="345.17" y1="813" x2="345.17" y2="814.5" stroke="#888" stroke-width="0.8"/>
<text transform="translate(377.34 828) scale(1 1.1)" font-size="10.5" text-anchor="middle" font-family='"Liberation Serif", serif' font-weight="normal" fill="#333" letter-spacing="0.3">2000</text>
<line x1="377.34" y1="813" x2="377.34" y2="814.5" stroke="#888" stroke-width="0.8"/>
<text transform="translate(409.51 828) scale(1 1.1)" font-size="10.5" text-anchor="middle" font-family='"Liberation Serif", serif' font-weight="normal" fill="#333" letter-spacing="0.3">3000</text>
<line x1="409.51" y1="813" x2="409.51" y2="814.5" stroke="#888" stroke-width="0.8"/>
<text transform="translate(441.68 828) scale(1 1.1)" font-size="10.5" text-anchor="middle" font-family='"Liberation Serif", serif' font-weight="normal" fill="#333" letter-spacing="0.3">4000</text>
<line x1="441.68" y1="813" x2="441.68" y2="814.5" stroke="#888" stroke-width="0.8"/>
<text transform="translate(473.85 828) scale(1 1.1)" font-size="10.5" text-anchor="middle" font-family='"Liberation Serif", serif' font-weight="normal" fill="#333" letter-spacing="0.3">5000</text>
<line x1="473.85" y1="813" x2="473.85" y2="814.5" stroke="#888" stroke-width="0.8"/>
<text transform="translate(506.02 828) scale(1 1.1)" font-size="10.5" text-anchor="middle" font-family='"Liberation Serif", serif' font-weight="normal" fill="#333" letter-spacing="0.3">6000</text>
<line x1="506.02" y1="813" x2="506.02" y2="814.5" stroke="#888" stroke-width="0.8"/>
<text transform="translate(475.5 846) scale(1 1.1)" font-size="11" text-anchor="middle" font-family='"Liberation Serif", serif' font-weight="normal" fill="#111" stroke="#111" stroke-width="0.15">Endotoxin (EU/mL)</text>
<text transform="translate(283.3 750.35) rotate(-90) scale(1 0.95)" font-size="13.45" text-anchor="middle" font-family='"Liberation Serif", serif' font-weight="normal" fill="#111" stroke="#111" stroke-width="0.15">IL-6 (ng/mL)</text>
<line x1="313" y1="776.7" x2="478.3" y2="745.2" stroke="#000" stroke-width="2"/>
<path d="M340.6 734.93L344 741.05L337.2 741.05Z" fill="#000"/>
<path d="M318 691.72L320.3 695.86L315.7 695.86Z" fill="none" stroke="#000" stroke-width="1.9" stroke-linejoin="round"/>
<path d="M327.2 695.72L329.5 699.86L324.9 699.86Z" fill="none" stroke="#000" stroke-width="1.9" stroke-linejoin="round"/>
<path d="M375.7 740.92L378 745.06L373.4 745.06Z" fill="none" stroke="#000" stroke-width="1.9" stroke-linejoin="round"/>
<path d="M391.9 740.92L394.2 745.06L389.6 745.06Z" fill="none" stroke="#000" stroke-width="1.9" stroke-linejoin="round"/>
<path d="M411.5 742.02L413.8 746.16L409.2 746.16Z" fill="none" stroke="#000" stroke-width="1.9" stroke-linejoin="round"/>
<path d="M403.4 687.12L405.7 691.26L401.1 691.26Z" fill="none" stroke="#000" stroke-width="1.9" stroke-linejoin="round"/>
<path d="M323.8 751.02L326.1 755.16L321.5 755.16Z" fill="none" stroke="#000" stroke-width="1.9" stroke-linejoin="round"/>
<path d="M323.8 762.62L326.1 766.76L321.5 766.76Z" fill="none" stroke="#000" stroke-width="1.9" stroke-linejoin="round"/>
<path d="M321.2 781.02L323.5 785.16L318.9 785.16Z" fill="none" stroke="#000" stroke-width="1.9" stroke-linejoin="round"/>
<path d="M344.5 773.02L346.8 777.16L342.2 777.16Z" fill="none" stroke="#000" stroke-width="1.9" stroke-linejoin="round"/>
<path d="M314.3 802L317.3 805L314.3 808L311.3 805Z" fill="#000"/>
<path d="M315.7 794.4L318.7 797.4L315.7 800.4L312.7 797.4Z" fill="#000"/>
<path d="M318 797.4L321 800.4L318 803.4L315 800.4Z" fill="#000"/>
<path d="M321.9 800.9L324.9 803.9L321.9 806.9L318.9 803.9Z" fill="#000"/>
<path d="M326.5 806.2L329.5 809.2L326.5 812.2L323.5 809.2Z" fill="#000"/>
<path d="M328.4 803.2L331.4 806.2L328.4 809.2L325.4 806.2Z" fill="#000"/>
<path d="M339.2 796.7L342.2 799.7L339.2 802.7L336.2 799.7Z" fill="#000"/>
<path d="M341.1 795.5L344.1 798.5L341.1 801.5L338.1 798.5Z" fill="#000"/>
<path d="M344.5 791.6L347.5 794.6L344.5 797.6L341.5 794.6Z" fill="#000"/>
<path d="M376.2 804.8L379.2 807.8L376.2 810.8L373.2 807.8Z" fill="#000"/>
<path d="M313.8 803.2L316.8 806.2L313.8 809.2L310.8 806.2Z" fill="#000"/>
<path d="M478.3 788L481.3 791L478.3 794L475.3 791Z" fill="#000"/>
<path d="M441.25 685.7L444.05 688.5L441.25 691.3L438.45 688.5Z" fill="#000"/>
<text transform="translate(449 690.8) scale(1 0.88)" font-size="12.5" text-anchor="start" font-family='"Liberation Serif", serif' font-weight="normal" fill="#111" stroke="#111" stroke-width="0.15" letter-spacing="0.3">WT</text>
<path d="M440.6 700.82L442.9 704.96L438.3 704.96Z" fill="none" stroke="#000" stroke-width="1.9" stroke-linejoin="round"/>
<text transform="translate(449 704.5) scale(1 0.8)" font-size="12.5" text-anchor="start" font-family='"Liberation Serif", serif' font-weight="normal" fill="#111" stroke="#111" stroke-width="0.15" letter-spacing="0.5">DAF<tspan font-size="11" dy="-6" letter-spacing="0">-/-</tspan></text>
<text transform="translate(438.5 732.6)" font-size="11" text-anchor="start" font-family='"Liberation Serif", serif' font-weight="normal" fill="#111" stroke="#111" stroke-width="0.15">R<tspan font-size="9" dy="-6">2</tspan><tspan dy="6">= 0.0394</tspan></text>
</svg></body></html>
